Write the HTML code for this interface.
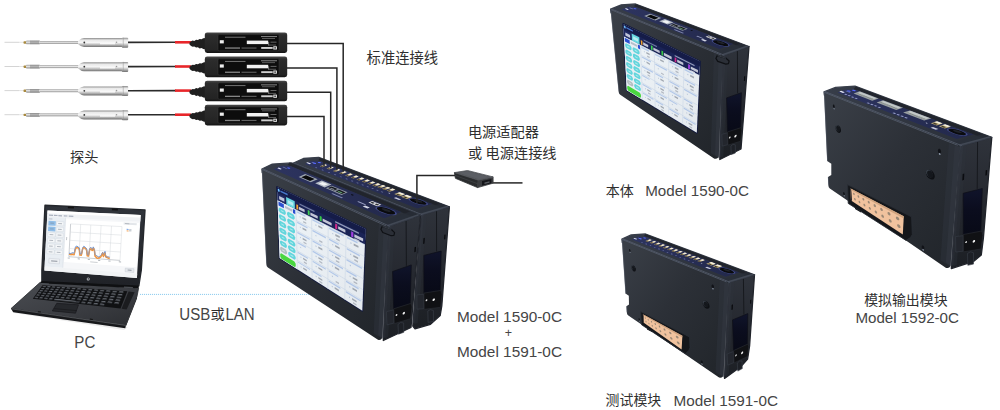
<!DOCTYPE html>
<html lang="zh"><head><meta charset="utf-8"><title>Model 1590-0C system configuration</title>
<style>
html,body{margin:0;padding:0;background:#fff;}
body{width:1000px;height:410px;overflow:hidden;font-family:"Liberation Sans","Noto Sans CJK SC",sans-serif;}
svg{display:block;}
svg text{font-family:"Liberation Sans","Noto Sans CJK SC",sans-serif;}
</style></head><body>
<svg width="1000" height="410" viewBox="0 0 1000 410">
<defs>
<linearGradient id="gMetal" x1="0" y1="0" x2="0" y2="1">
<stop offset="0" stop-color="#8e8e8e"/><stop offset=".22" stop-color="#e9e9e9"/><stop offset=".5" stop-color="#f6f6f6"/><stop offset=".8" stop-color="#a9a9a9"/><stop offset="1" stop-color="#6e6e6e"/></linearGradient>
<linearGradient id="gShaft" x1="0" y1="0" x2="0" y2="1">
<stop offset="0" stop-color="#9a9a9a"/><stop offset=".45" stop-color="#e4e4e4"/><stop offset="1" stop-color="#8c8c8c"/></linearGradient>
<linearGradient id="gAmp" x1="0" y1="0" x2="0" y2="1">
<stop offset="0" stop-color="#4c4c4c"/><stop offset=".12" stop-color="#2d2d2d"/><stop offset=".88" stop-color="#232323"/><stop offset="1" stop-color="#121212"/></linearGradient>
<linearGradient id="gDeck" x1="0" y1="0" x2="1" y2="1">
<stop offset="0" stop-color="#4a4d52"/><stop offset=".6" stop-color="#3a3c41"/><stop offset="1" stop-color="#2c2e32"/></linearGradient>
<linearGradient id="gLid" x1="0" y1="0" x2="0" y2="1">
<stop offset="0" stop-color="#30343b"/><stop offset="1" stop-color="#202227"/></linearGradient>
<linearGradient id="gFront" x1="0" y1="0" x2="1" y2="1">
<stop offset="0" stop-color="#3a3f47"/><stop offset=".45" stop-color="#2c3037"/><stop offset="1" stop-color="#21252a"/></linearGradient>
<linearGradient id="gSide" x1="0" y1="0" x2="0" y2="1">
<stop offset="0" stop-color="#2f333b"/><stop offset=".5" stop-color="#25282f"/><stop offset="1" stop-color="#1c1f24"/></linearGradient>
<linearGradient id="gTop" x1="0" y1="0" x2="1" y2="0">
<stop offset="0" stop-color="#373d49"/><stop offset="1" stop-color="#292e37"/></linearGradient>
<linearGradient id="gPanel" x1="0" y1="0" x2="1" y2="0">
<stop offset="0" stop-color="#2d3460"/><stop offset="1" stop-color="#22284a"/></linearGradient>
<linearGradient id="gWin" x1="0" y1="0" x2="0" y2="1">
<stop offset="0" stop-color="#10142b"/><stop offset=".45" stop-color="#0b0d1e"/><stop offset="1" stop-color="#080a16"/></linearGradient>
<linearGradient id="gScreen" x1="0" y1="0" x2="1" y2="1">
<stop offset="0" stop-color="#eef4f8"/><stop offset="1" stop-color="#e4e9ee"/></linearGradient>
</defs>
<g><line x1="4.5" y1="42.3" x2="19" y2="42.3" stroke="#c9c9c9" stroke-width=".8"/><line x1="19" y1="42.3" x2="24" y2="42.3" stroke="#dcdcdc" stroke-width=".8"/><rect x="23.5" y="41.3" width="3" height="2.4" rx=".8" fill="#a8893e"/><rect x="26" y="41.0" width="54" height="2.9" fill="url(#gShaft)"/><rect x="26.4" y="40.6" width="13.6" height="3.6" fill="url(#gShaft)"/><rect x="30" y="40.6" width="9" height="3.6" fill="#7a7a7a" opacity=".45"/><path d="M78 41.2 q3.2 -3.1 6 -3.1 h38 v9 h-38 q-2.8 0 -6 -3.1 z" fill="url(#gMetal)"/><rect x="121.8" y="37.8" width="6.4" height="10" rx="1" fill="url(#gMetal)"/><rect x="122.8" y="37.6" width=".8" height="10" fill="#8d8d8d" opacity=".6"/><circle cx="84.3" cy="42.5" r=".9" fill="#333"/><circle cx="116.5" cy="42.3" r=".8" fill="#999"/><rect x="100" y="42.8" width="15" height="1.5" fill="#fff" opacity=".8"/><line x1="128" y1="42.4" x2="176" y2="42.3" stroke="#2b2b2b" stroke-width="1.6"/><line x1="175" y1="42.3" x2="191" y2="42.3" stroke="#e8262a" stroke-width="2.6"/><path d="M189.5 42.8 q1.5 -2 3.2 -2.2 l1.6 .3 l1.8 -1.1 l1.8 .3 l1.8 -1.1 l1.8 .3 l1.8 -1 l2.2 -.4 v11.6 l-2.2 -.4 l-1.8 -1 l-1.8 .3 l-1.8 -1.1 l-1.8 .3 l-1.8 -1.1 l-1.6 .3 q-1.7 -.2 -3.2 -2.2 z" fill="#1f1f1f"/><rect x="204.8" y="32.4" width="82.4" height="20.6" rx="2.4" fill="url(#gAmp)"/><rect x="218" y="34.6" width="61" height="16.2" rx="1.2" fill="#0d0d0d" stroke="#3d3d3d" stroke-width=".5"/><rect x="219.8" y="40.2" width="4" height="3.2" fill="#ededed"/><rect x="246.8" y="40.6" width="21.4" height="3.5" fill="#f1f1f1"/><rect x="225" y="36.7" width="20.5" height="1.1" fill="#8a8a8a" opacity=".75"/><rect x="261" y="36.0" width="16" height="1.1" fill="#9a9a9a" opacity=".8"/><rect x="262" y="38.0" width="13" height=".9" fill="#777" opacity=".8"/><rect x="270.5" y="41.7" width="6" height=".9" fill="#888" opacity=".8"/><rect x="268.2" y="42.0" width=".9" height="3.6" fill="#aaa" opacity=".8"/><rect x="269" y="44.6" width="7" height=".9" fill="#777" opacity=".8"/><rect x="225" y="47.4" width="15" height="1.3" fill="#9b9b9b" opacity=".85"/><rect x="241.5" y="47.5" width="15" height="1.1" fill="#777" opacity=".8"/><rect x="261.2" y="47.0" width="11.5" height="1.9" fill="#cfcfcf"/><rect x="273.3" y="46.3" width="3.6" height="3.2" fill="#e6e6e6"/><rect x="274.3" y="47.2" width="1.6" height="1.4" fill="#333"/></g>
<g><line x1="4.5" y1="66.5" x2="19" y2="66.5" stroke="#c9c9c9" stroke-width=".8"/><line x1="19" y1="66.5" x2="24" y2="66.5" stroke="#dcdcdc" stroke-width=".8"/><rect x="23.5" y="65.5" width="3" height="2.4" rx=".8" fill="#a8893e"/><rect x="26" y="65.2" width="54" height="2.9" fill="url(#gShaft)"/><rect x="26.4" y="64.8" width="13.6" height="3.6" fill="url(#gShaft)"/><rect x="30" y="64.8" width="9" height="3.6" fill="#7a7a7a" opacity=".45"/><path d="M78 65.4 q3.2 -3.1 6 -3.1 h38 v9 h-38 q-2.8 0 -6 -3.1 z" fill="url(#gMetal)"/><rect x="121.8" y="62.0" width="6.4" height="10" rx="1" fill="url(#gMetal)"/><rect x="122.8" y="61.8" width=".8" height="10" fill="#8d8d8d" opacity=".6"/><circle cx="84.3" cy="66.7" r=".9" fill="#333"/><circle cx="116.5" cy="66.5" r=".8" fill="#999"/><rect x="100" y="67.0" width="15" height="1.5" fill="#fff" opacity=".8"/><line x1="128" y1="66.6" x2="176" y2="66.5" stroke="#2b2b2b" stroke-width="1.6"/><line x1="175" y1="66.5" x2="191" y2="66.5" stroke="#e8262a" stroke-width="2.6"/><path d="M189.5 67.0 q1.5 -2 3.2 -2.2 l1.6 .3 l1.8 -1.1 l1.8 .3 l1.8 -1.1 l1.8 .3 l1.8 -1 l2.2 -.4 v11.6 l-2.2 -.4 l-1.8 -1 l-1.8 .3 l-1.8 -1.1 l-1.8 .3 l-1.8 -1.1 l-1.6 .3 q-1.7 -.2 -3.2 -2.2 z" fill="#1f1f1f"/><rect x="204.8" y="56.6" width="82.4" height="20.6" rx="2.4" fill="url(#gAmp)"/><rect x="218" y="58.8" width="61" height="16.2" rx="1.2" fill="#0d0d0d" stroke="#3d3d3d" stroke-width=".5"/><rect x="219.8" y="64.4" width="4" height="3.2" fill="#ededed"/><rect x="246.8" y="64.8" width="21.4" height="3.5" fill="#f1f1f1"/><rect x="225" y="60.9" width="20.5" height="1.1" fill="#8a8a8a" opacity=".75"/><rect x="261" y="60.2" width="16" height="1.1" fill="#9a9a9a" opacity=".8"/><rect x="262" y="62.2" width="13" height=".9" fill="#777" opacity=".8"/><rect x="270.5" y="65.9" width="6" height=".9" fill="#888" opacity=".8"/><rect x="268.2" y="66.2" width=".9" height="3.6" fill="#aaa" opacity=".8"/><rect x="269" y="68.8" width="7" height=".9" fill="#777" opacity=".8"/><rect x="225" y="71.6" width="15" height="1.3" fill="#9b9b9b" opacity=".85"/><rect x="241.5" y="71.7" width="15" height="1.1" fill="#777" opacity=".8"/><rect x="261.2" y="71.2" width="11.5" height="1.9" fill="#cfcfcf"/><rect x="273.3" y="70.5" width="3.6" height="3.2" fill="#e6e6e6"/><rect x="274.3" y="71.4" width="1.6" height="1.4" fill="#333"/></g>
<g><line x1="4.5" y1="90.6" x2="19" y2="90.6" stroke="#c9c9c9" stroke-width=".8"/><line x1="19" y1="90.6" x2="24" y2="90.6" stroke="#dcdcdc" stroke-width=".8"/><rect x="23.5" y="89.6" width="3" height="2.4" rx=".8" fill="#a8893e"/><rect x="26" y="89.3" width="54" height="2.9" fill="url(#gShaft)"/><rect x="26.4" y="89.0" width="13.6" height="3.6" fill="url(#gShaft)"/><rect x="30" y="89.0" width="9" height="3.6" fill="#7a7a7a" opacity=".45"/><path d="M78 89.5 q3.2 -3.1 6 -3.1 h38 v9 h-38 q-2.8 0 -6 -3.1 z" fill="url(#gMetal)"/><rect x="121.8" y="86.1" width="6.4" height="10" rx="1" fill="url(#gMetal)"/><rect x="122.8" y="85.9" width=".8" height="10" fill="#8d8d8d" opacity=".6"/><circle cx="84.3" cy="90.8" r=".9" fill="#333"/><circle cx="116.5" cy="90.6" r=".8" fill="#999"/><rect x="100" y="91.1" width="15" height="1.5" fill="#fff" opacity=".8"/><line x1="128" y1="90.7" x2="176" y2="90.6" stroke="#2b2b2b" stroke-width="1.6"/><line x1="175" y1="90.6" x2="191" y2="90.6" stroke="#e8262a" stroke-width="2.6"/><path d="M189.5 91.1 q1.5 -2 3.2 -2.2 l1.6 .3 l1.8 -1.1 l1.8 .3 l1.8 -1.1 l1.8 .3 l1.8 -1 l2.2 -.4 v11.6 l-2.2 -.4 l-1.8 -1 l-1.8 .3 l-1.8 -1.1 l-1.8 .3 l-1.8 -1.1 l-1.6 .3 q-1.7 -.2 -3.2 -2.2 z" fill="#1f1f1f"/><rect x="204.8" y="80.7" width="82.4" height="20.6" rx="2.4" fill="url(#gAmp)"/><rect x="218" y="82.9" width="61" height="16.2" rx="1.2" fill="#0d0d0d" stroke="#3d3d3d" stroke-width=".5"/><rect x="219.8" y="88.5" width="4" height="3.2" fill="#ededed"/><rect x="246.8" y="88.9" width="21.4" height="3.5" fill="#f1f1f1"/><rect x="225" y="85.0" width="20.5" height="1.1" fill="#8a8a8a" opacity=".75"/><rect x="261" y="84.3" width="16" height="1.1" fill="#9a9a9a" opacity=".8"/><rect x="262" y="86.3" width="13" height=".9" fill="#777" opacity=".8"/><rect x="270.5" y="90.0" width="6" height=".9" fill="#888" opacity=".8"/><rect x="268.2" y="90.3" width=".9" height="3.6" fill="#aaa" opacity=".8"/><rect x="269" y="92.9" width="7" height=".9" fill="#777" opacity=".8"/><rect x="225" y="95.7" width="15" height="1.3" fill="#9b9b9b" opacity=".85"/><rect x="241.5" y="95.8" width="15" height="1.1" fill="#777" opacity=".8"/><rect x="261.2" y="95.3" width="11.5" height="1.9" fill="#cfcfcf"/><rect x="273.3" y="94.6" width="3.6" height="3.2" fill="#e6e6e6"/><rect x="274.3" y="95.5" width="1.6" height="1.4" fill="#333"/></g>
<g><line x1="4.5" y1="114.7" x2="19" y2="114.7" stroke="#c9c9c9" stroke-width=".8"/><line x1="19" y1="114.7" x2="24" y2="114.7" stroke="#dcdcdc" stroke-width=".8"/><rect x="23.5" y="113.7" width="3" height="2.4" rx=".8" fill="#a8893e"/><rect x="26" y="113.4" width="54" height="2.9" fill="url(#gShaft)"/><rect x="26.4" y="113.0" width="13.6" height="3.6" fill="url(#gShaft)"/><rect x="30" y="113.0" width="9" height="3.6" fill="#7a7a7a" opacity=".45"/><path d="M78 113.6 q3.2 -3.1 6 -3.1 h38 v9 h-38 q-2.8 0 -6 -3.1 z" fill="url(#gMetal)"/><rect x="121.8" y="110.2" width="6.4" height="10" rx="1" fill="url(#gMetal)"/><rect x="122.8" y="110.0" width=".8" height="10" fill="#8d8d8d" opacity=".6"/><circle cx="84.3" cy="114.9" r=".9" fill="#333"/><circle cx="116.5" cy="114.7" r=".8" fill="#999"/><rect x="100" y="115.2" width="15" height="1.5" fill="#fff" opacity=".8"/><line x1="128" y1="114.8" x2="176" y2="114.7" stroke="#2b2b2b" stroke-width="1.6"/><line x1="175" y1="114.7" x2="191" y2="114.7" stroke="#e8262a" stroke-width="2.6"/><path d="M189.5 115.2 q1.5 -2 3.2 -2.2 l1.6 .3 l1.8 -1.1 l1.8 .3 l1.8 -1.1 l1.8 .3 l1.8 -1 l2.2 -.4 v11.6 l-2.2 -.4 l-1.8 -1 l-1.8 .3 l-1.8 -1.1 l-1.8 .3 l-1.8 -1.1 l-1.6 .3 q-1.7 -.2 -3.2 -2.2 z" fill="#1f1f1f"/><rect x="204.8" y="104.8" width="82.4" height="20.6" rx="2.4" fill="url(#gAmp)"/><rect x="218" y="107.0" width="61" height="16.2" rx="1.2" fill="#0d0d0d" stroke="#3d3d3d" stroke-width=".5"/><rect x="219.8" y="112.6" width="4" height="3.2" fill="#ededed"/><rect x="246.8" y="113.0" width="21.4" height="3.5" fill="#f1f1f1"/><rect x="225" y="109.1" width="20.5" height="1.1" fill="#8a8a8a" opacity=".75"/><rect x="261" y="108.4" width="16" height="1.1" fill="#9a9a9a" opacity=".8"/><rect x="262" y="110.4" width="13" height=".9" fill="#777" opacity=".8"/><rect x="270.5" y="114.1" width="6" height=".9" fill="#888" opacity=".8"/><rect x="268.2" y="114.4" width=".9" height="3.6" fill="#aaa" opacity=".8"/><rect x="269" y="117.0" width="7" height=".9" fill="#777" opacity=".8"/><rect x="225" y="119.8" width="15" height="1.3" fill="#9b9b9b" opacity=".85"/><rect x="241.5" y="119.9" width="15" height="1.1" fill="#777" opacity=".8"/><rect x="261.2" y="119.4" width="11.5" height="1.9" fill="#cfcfcf"/><rect x="273.3" y="118.7" width="3.6" height="3.2" fill="#e6e6e6"/><rect x="274.3" y="119.6" width="1.6" height="1.4" fill="#333"/></g>
<g><polygon points="14,313 124,330 128,327 20,309" fill="#d9d9d9" opacity=".5"/><polygon points="40.2,282.3 138.6,288.2 137.2,295.5 125.8,325.2 11.0,308.6" fill="url(#gDeck)" stroke="#2a2c30" stroke-width=".8" stroke-linejoin="round"/><polygon points="11.0,308.6 125.8,325.2 125.2,328.3 13.2,312.3" fill="#17181b"/><polygon points="125.8,325.2 137.2,295.5 137.0,298.5 125.2,328.3" fill="#222427"/><line x1="11.4" y1="308.9" x2="125.6" y2="325.4" stroke="#5b5e63" stroke-width=".7"/><polygon points="42.5,285.3 127.3,291.3 120.5,308.6 32.8,298.8" fill="#101113"/><polygon points="43.0,285.7 46.3,286.0 45.3,287.4 42.1,287.1" fill="#33363b" /><polygon points="43.2,285.9 45.7,286.0 45.4,286.5 42.9,286.3" fill="#a4a9b0" opacity=".6"/><polygon points="47.6,286.1 50.9,286.3 50.0,287.7 46.6,287.5" fill="#33363b" /><polygon points="47.8,286.2 50.3,286.4 50.0,286.9 47.5,286.7" fill="#a4a9b0" opacity=".6"/><polygon points="52.2,286.4 55.7,286.7 54.7,288.1 51.3,287.8" fill="#33363b" /><polygon points="52.5,286.5 55.1,286.7 54.7,287.2 52.1,287.0" fill="#a4a9b0" opacity=".6"/><polygon points="57.0,286.7 60.5,287.0 59.6,288.4 56.1,288.2" fill="#33363b" /><polygon points="57.2,286.9 59.9,287.1 59.6,287.6 56.9,287.4" fill="#a4a9b0" opacity=".6"/><polygon points="61.9,287.1 65.5,287.4 64.6,288.8 61.0,288.5" fill="#33363b" /><polygon points="62.1,287.2 64.9,287.4 64.6,287.9 61.8,287.7" fill="#a4a9b0" opacity=".6"/><polygon points="66.9,287.5 70.7,287.7 69.8,289.2 66.0,288.9" fill="#33363b" /><polygon points="67.2,287.6 70.0,287.8 69.7,288.3 66.9,288.1" fill="#a4a9b0" opacity=".6"/><polygon points="72.1,287.8 75.9,288.1 75.0,289.6 71.2,289.3" fill="#33363b" /><polygon points="72.4,288.0 75.3,288.2 75.0,288.7 72.1,288.5" fill="#a4a9b0" opacity=".6"/><polygon points="77.4,288.2 81.3,288.5 80.5,290.0 76.5,289.7" fill="#33363b" /><polygon points="77.7,288.4 80.7,288.6 80.4,289.1 77.4,288.9" fill="#a4a9b0" opacity=".6"/><polygon points="82.9,288.6 86.9,288.9 86.1,290.4 82.0,290.1" fill="#33363b" /><polygon points="83.2,288.8 86.2,289.0 85.9,289.5 82.9,289.3" fill="#a4a9b0" opacity=".6"/><polygon points="88.5,289.0 92.6,289.3 91.8,290.9 87.7,290.6" fill="#33363b" /><polygon points="88.8,289.2 92.0,289.4 91.7,289.9 88.5,289.7" fill="#a4a9b0" opacity=".6"/><polygon points="94.3,289.4 98.5,289.7 97.7,291.3 93.5,291.0" fill="#33363b" /><polygon points="94.6,289.6 97.8,289.8 97.6,290.4 94.3,290.1" fill="#a4a9b0" opacity=".6"/><polygon points="100.2,289.9 104.6,290.2 103.8,291.8 99.4,291.5" fill="#33363b" /><polygon points="100.5,290.0 103.9,290.2 103.6,290.8 100.3,290.6" fill="#a4a9b0" opacity=".6"/><polygon points="106.3,290.3 110.9,290.6 110.1,292.3 105.6,291.9" fill="#33363b" /><polygon points="106.7,290.4 110.1,290.7 109.9,291.3 106.4,291.0" fill="#a4a9b0" opacity=".6"/><polygon points="112.7,290.7 117.3,291.1 116.6,292.8 111.9,292.4" fill="#33363b" /><polygon points="113.0,290.9 116.6,291.2 116.3,291.8 112.7,291.5" fill="#a4a9b0" opacity=".6"/><polygon points="119.2,291.2 124.0,291.6 123.3,293.3 118.4,292.9" fill="#33363b" /><polygon points="119.5,291.4 123.2,291.6 122.9,292.2 119.3,292.0" fill="#a4a9b0" opacity=".6"/><polygon points="41.5,287.9 44.8,288.1 43.8,289.5 40.5,289.2" fill="#33363b" /><polygon points="41.7,288.0 44.2,288.2 43.9,288.7 41.4,288.5" fill="#a4a9b0" opacity=".6"/><polygon points="46.1,288.2 49.4,288.5 48.5,289.9 45.1,289.6" fill="#33363b" /><polygon points="46.3,288.3 48.9,288.5 48.5,289.0 46.0,288.8" fill="#a4a9b0" opacity=".6"/><polygon points="50.8,288.6 54.2,288.8 53.2,290.3 49.8,290.0" fill="#33363b" /><polygon points="51.0,288.7 53.6,288.9 53.3,289.4 50.6,289.2" fill="#a4a9b0" opacity=".6"/><polygon points="55.6,289.0 59.1,289.2 58.1,290.7 54.6,290.4" fill="#33363b" /><polygon points="55.8,289.1 58.5,289.3 58.1,289.8 55.4,289.6" fill="#a4a9b0" opacity=".6"/><polygon points="60.5,289.3 64.1,289.6 63.2,291.1 59.5,290.8" fill="#33363b" /><polygon points="60.7,289.5 63.5,289.7 63.2,290.2 60.4,290.0" fill="#a4a9b0" opacity=".6"/><polygon points="65.5,289.7 69.3,290.0 68.3,291.5 64.6,291.2" fill="#33363b" /><polygon points="65.8,289.9 68.6,290.1 68.3,290.6 65.5,290.4" fill="#a4a9b0" opacity=".6"/><polygon points="70.7,290.1 74.6,290.4 73.7,292.0 69.8,291.6" fill="#33363b" /><polygon points="71.0,290.3 73.9,290.5 73.6,291.0 70.7,290.8" fill="#a4a9b0" opacity=".6"/><polygon points="76.1,290.6 80.0,290.9 79.1,292.4 75.2,292.1" fill="#33363b" /><polygon points="76.3,290.7 79.3,290.9 79.0,291.5 76.0,291.2" fill="#a4a9b0" opacity=".6"/><polygon points="81.6,291.0 85.6,291.3 84.7,292.9 80.7,292.5" fill="#33363b" /><polygon points="81.8,291.1 84.9,291.4 84.6,291.9 81.5,291.7" fill="#a4a9b0" opacity=".6"/><polygon points="87.2,291.4 91.4,291.7 90.5,293.4 86.3,293.0" fill="#33363b" /><polygon points="87.5,291.6 90.7,291.8 90.4,292.4 87.2,292.1" fill="#a4a9b0" opacity=".6"/><polygon points="93.0,291.9 97.3,292.2 96.5,293.8 92.2,293.5" fill="#33363b" /><polygon points="93.3,292.0 96.6,292.3 96.3,292.9 93.0,292.6" fill="#a4a9b0" opacity=".6"/><polygon points="99.0,292.3 103.4,292.7 102.6,294.3 98.2,294.0" fill="#33363b" /><polygon points="99.3,292.5 102.7,292.8 102.4,293.3 99.0,293.1" fill="#a4a9b0" opacity=".6"/><polygon points="105.2,292.8 109.7,293.2 108.9,294.9 104.4,294.5" fill="#33363b" /><polygon points="105.5,293.0 109.0,293.3 108.7,293.8 105.2,293.6" fill="#a4a9b0" opacity=".6"/><polygon points="111.5,293.3 116.2,293.7 115.5,295.4 110.7,295.0" fill="#33363b" /><polygon points="111.8,293.5 115.4,293.8 115.2,294.4 111.6,294.1" fill="#a4a9b0" opacity=".6"/><polygon points="118.0,293.8 122.9,294.2 122.2,296.0 117.3,295.6" fill="#33363b" /><polygon points="118.4,294.0 122.1,294.3 121.8,294.9 118.1,294.6" fill="#a4a9b0" opacity=".6"/><polygon points="40.0,290.0 43.3,290.3 42.3,291.7 39.0,291.4" fill="#33363b" /><polygon points="40.2,290.1 42.7,290.3 42.4,290.8 39.9,290.6" fill="#a4a9b0" opacity=".6"/><polygon points="44.6,290.4 47.9,290.7 47.0,292.1 43.6,291.8" fill="#33363b" /><polygon points="44.8,290.5 47.4,290.7 47.0,291.2 44.4,291.0" fill="#a4a9b0" opacity=".6"/><polygon points="49.3,290.8 52.7,291.1 51.7,292.5 48.3,292.2" fill="#33363b" /><polygon points="49.5,290.9 52.1,291.1 51.8,291.7 49.1,291.4" fill="#a4a9b0" opacity=".6"/><polygon points="54.1,291.2 57.6,291.5 56.7,293.0 53.1,292.7" fill="#33363b" /><polygon points="54.3,291.3 57.0,291.6 56.7,292.1 54.0,291.8" fill="#a4a9b0" opacity=".6"/><polygon points="59.0,291.6 62.7,291.9 61.7,293.4 58.1,293.1" fill="#33363b" /><polygon points="59.3,291.7 62.0,292.0 61.7,292.5 58.9,292.3" fill="#a4a9b0" opacity=".6"/><polygon points="64.1,292.0 67.8,292.4 66.9,293.9 63.2,293.6" fill="#33363b" /><polygon points="64.3,292.2 67.2,292.4 66.9,293.0 64.0,292.7" fill="#a4a9b0" opacity=".6"/><polygon points="69.3,292.5 73.2,292.8 72.3,294.4 68.4,294.0" fill="#33363b" /><polygon points="69.6,292.6 72.5,292.9 72.2,293.4 69.2,293.2" fill="#a4a9b0" opacity=".6"/><polygon points="74.7,292.9 78.6,293.3 77.7,294.8 73.8,294.5" fill="#33363b" /><polygon points="75.0,293.1 78.0,293.3 77.7,293.9 74.6,293.6" fill="#a4a9b0" opacity=".6"/><polygon points="80.2,293.4 84.3,293.7 83.4,295.3 79.3,295.0" fill="#33363b" /><polygon points="80.5,293.5 83.6,293.8 83.3,294.4 80.2,294.1" fill="#a4a9b0" opacity=".6"/><polygon points="85.9,293.9 90.1,294.2 89.2,295.9 85.0,295.5" fill="#33363b" /><polygon points="86.2,294.0 89.4,294.3 89.1,294.9 85.9,294.6" fill="#a4a9b0" opacity=".6"/><polygon points="91.7,294.4 96.0,294.7 95.2,296.4 90.9,296.0" fill="#33363b" /><polygon points="92.0,294.5 95.3,294.8 95.0,295.4 91.7,295.1" fill="#a4a9b0" opacity=".6"/><polygon points="97.7,294.9 102.2,295.3 101.4,296.9 96.9,296.5" fill="#33363b" /><polygon points="98.1,295.0 101.5,295.3 101.2,295.9 97.8,295.6" fill="#a4a9b0" opacity=".6"/><polygon points="103.9,295.4 108.5,295.8 107.7,297.5 103.1,297.1" fill="#33363b" /><polygon points="104.3,295.6 107.8,295.9 107.5,296.5 104.0,296.2" fill="#a4a9b0" opacity=".6"/><polygon points="110.3,295.9 115.1,296.3 114.3,298.1 109.6,297.7" fill="#33363b" /><polygon points="110.7,296.1 114.3,296.4 114.0,297.0 110.4,296.7" fill="#a4a9b0" opacity=".6"/><polygon points="116.9,296.5 121.8,296.9 121.1,298.7 116.2,298.3" fill="#33363b" /><polygon points="117.3,296.7 121.0,297.0 120.7,297.6 117.0,297.3" fill="#a4a9b0" opacity=".6"/><polygon points="38.4,292.2 41.7,292.5 40.7,293.9 37.4,293.6" fill="#33363b" /><polygon points="38.6,292.3 41.2,292.5 40.8,293.0 38.3,292.8" fill="#a4a9b0" opacity=".6"/><polygon points="43.0,292.6 46.4,292.9 45.4,294.4 42.0,294.0" fill="#33363b" /><polygon points="43.2,292.7 45.8,293.0 45.5,293.5 42.9,293.2" fill="#a4a9b0" opacity=".6"/><polygon points="47.7,293.0 51.2,293.3 50.2,294.8 46.7,294.5" fill="#33363b" /><polygon points="48.0,293.2 50.6,293.4 50.3,293.9 47.6,293.7" fill="#a4a9b0" opacity=".6"/><polygon points="52.6,293.5 56.1,293.8 55.2,295.3 51.6,295.0" fill="#33363b" /><polygon points="52.8,293.6 55.5,293.9 55.2,294.4 52.5,294.1" fill="#a4a9b0" opacity=".6"/><polygon points="57.5,293.9 61.2,294.2 60.2,295.8 56.6,295.4" fill="#33363b" /><polygon points="57.8,294.1 60.6,294.3 60.2,294.9 57.4,294.6" fill="#a4a9b0" opacity=".6"/><polygon points="62.6,294.4 66.4,294.7 65.5,296.3 61.7,295.9" fill="#33363b" /><polygon points="62.9,294.5 65.8,294.8 65.4,295.3 62.6,295.1" fill="#a4a9b0" opacity=".6"/><polygon points="67.9,294.9 71.8,295.2 70.8,296.8 66.9,296.4" fill="#33363b" /><polygon points="68.1,295.0 71.1,295.3 70.8,295.8 67.8,295.6" fill="#a4a9b0" opacity=".6"/><polygon points="73.3,295.3 77.3,295.7 76.3,297.3 72.4,296.9" fill="#33363b" /><polygon points="73.5,295.5 76.6,295.8 76.3,296.3 73.2,296.1" fill="#a4a9b0" opacity=".6"/><polygon points="78.8,295.9 82.9,296.2 82.0,297.9 77.9,297.5" fill="#33363b" /><polygon points="79.1,296.0 82.2,296.3 81.9,296.9 78.8,296.6" fill="#a4a9b0" opacity=".6"/><polygon points="84.5,296.4 88.7,296.8 87.9,298.4 83.6,298.0" fill="#33363b" /><polygon points="84.8,296.5 88.0,296.8 87.7,297.4 84.5,297.1" fill="#a4a9b0" opacity=".6"/><polygon points="90.4,296.9 94.8,297.3 93.9,299.0 89.5,298.6" fill="#33363b" /><polygon points="90.7,297.1 94.0,297.4 93.7,298.0 90.4,297.7" fill="#a4a9b0" opacity=".6"/><polygon points="96.5,297.5 100.9,297.9 100.1,299.6 95.6,299.2" fill="#33363b" /><polygon points="96.8,297.6 100.2,297.9 99.9,298.5 96.5,298.2" fill="#a4a9b0" opacity=".6"/><polygon points="102.7,298.0 107.3,298.5 106.5,300.2 101.9,299.8" fill="#33363b" /><polygon points="103.0,298.2 106.6,298.5 106.3,299.1 102.7,298.8" fill="#a4a9b0" opacity=".6"/><polygon points="109.1,298.6 113.9,299.0 113.1,300.8 108.3,300.4" fill="#33363b" /><polygon points="109.5,298.8 113.1,299.1 112.8,299.7 109.2,299.4" fill="#a4a9b0" opacity=".6"/><polygon points="115.8,299.2 120.7,299.7 119.9,301.5 115.0,301.0" fill="#33363b" /><polygon points="116.1,299.4 119.9,299.7 119.6,300.4 115.9,300.0" fill="#a4a9b0" opacity=".6"/><polygon points="36.9,294.4 40.2,294.7 39.1,296.2 35.8,295.8" fill="#33363b" /><polygon points="37.1,294.5 39.6,294.8 39.2,295.3 36.7,295.0" fill="#a4a9b0" opacity=".6"/><polygon points="41.5,294.8 44.9,295.2 43.8,296.7 40.4,296.3" fill="#33363b" /><polygon points="41.7,295.0 44.3,295.2 43.9,295.8 41.3,295.5" fill="#a4a9b0" opacity=".6"/><polygon points="46.2,295.3 49.7,295.6 48.7,297.2 45.2,296.8" fill="#33363b" /><polygon points="46.4,295.4 49.1,295.7 48.7,296.2 46.1,296.0" fill="#a4a9b0" opacity=".6"/><polygon points="51.0,295.8 54.6,296.1 53.6,297.7 50.0,297.3" fill="#33363b" /><polygon points="51.3,295.9 54.0,296.2 53.7,296.7 50.9,296.5" fill="#a4a9b0" opacity=".6"/><polygon points="56.0,296.3 59.7,296.6 58.7,298.2 55.0,297.8" fill="#33363b" /><polygon points="56.3,296.4 59.1,296.7 58.7,297.2 55.9,297.0" fill="#a4a9b0" opacity=".6"/><polygon points="61.2,296.8 64.9,297.1 64.0,298.7 60.2,298.3" fill="#33363b" /><polygon points="61.4,296.9 64.3,297.2 64.0,297.8 61.1,297.5" fill="#a4a9b0" opacity=".6"/><polygon points="66.4,297.3 70.3,297.7 69.4,299.3 65.5,298.9" fill="#33363b" /><polygon points="66.7,297.4 69.7,297.7 69.3,298.3 66.3,298.0" fill="#a4a9b0" opacity=".6"/><polygon points="71.8,297.8 75.8,298.2 74.9,299.8 70.9,299.4" fill="#33363b" /><polygon points="72.1,298.0 75.2,298.3 74.8,298.8 71.8,298.5" fill="#a4a9b0" opacity=".6"/><polygon points="77.4,298.4 81.5,298.8 80.6,300.4 76.5,300.0" fill="#33363b" /><polygon points="77.7,298.5 80.8,298.8 80.5,299.4 77.4,299.1" fill="#a4a9b0" opacity=".6"/><polygon points="83.2,298.9 87.4,299.3 86.5,301.0 82.3,300.6" fill="#33363b" /><polygon points="83.5,299.1 86.7,299.4 86.4,300.0 83.1,299.7" fill="#a4a9b0" opacity=".6"/><polygon points="89.1,299.5 93.4,299.9 92.6,301.6 88.2,301.2" fill="#33363b" /><polygon points="89.4,299.7 92.7,300.0 92.4,300.6 89.1,300.3" fill="#a4a9b0" opacity=".6"/><polygon points="95.2,300.1 99.7,300.5 98.8,302.3 94.3,301.8" fill="#33363b" /><polygon points="95.5,300.3 98.9,300.6 98.6,301.2 95.2,300.9" fill="#a4a9b0" opacity=".6"/><polygon points="101.4,300.7 106.1,301.2 105.3,302.9 100.6,302.5" fill="#33363b" /><polygon points="101.8,300.9 105.3,301.2 105.0,301.9 101.5,301.5" fill="#a4a9b0" opacity=".6"/><polygon points="107.9,301.3 112.7,301.8 111.9,303.6 107.1,303.1" fill="#33363b" /><polygon points="108.3,301.5 111.9,301.9 111.6,302.5 108.0,302.1" fill="#a4a9b0" opacity=".6"/><polygon points="114.6,302.0 119.5,302.5 118.8,304.3 113.8,303.8" fill="#33363b" /><polygon points="115.0,302.2 118.7,302.5 118.5,303.2 114.7,302.8" fill="#a4a9b0" opacity=".6"/><polygon points="35.3,296.6 38.6,297.0 37.5,298.5 34.2,298.1" fill="#33363b" /><polygon points="35.5,296.8 38.0,297.0 37.6,297.6 35.1,297.3" fill="#a4a9b0" opacity=".6"/><polygon points="39.9,297.1 43.3,297.5 42.2,299.0 38.8,298.6" fill="#33363b" /><polygon points="40.1,297.3 42.7,297.5 42.3,298.1 39.7,297.8" fill="#a4a9b0" opacity=".6"/><polygon points="44.6,297.6 48.1,298.0 47.1,299.5 43.6,299.1" fill="#33363b" /><polygon points="44.8,297.8 47.5,298.0 47.1,298.6 44.5,298.3" fill="#a4a9b0" opacity=".6"/><polygon points="49.5,298.1 53.1,298.5 52.1,300.1 48.5,299.7" fill="#33363b" /><polygon points="49.7,298.3 52.5,298.6 52.1,299.1 49.4,298.8" fill="#a4a9b0" opacity=".6"/><polygon points="54.5,298.7 80.0,301.3 79.1,303.0 53.5,300.2" fill="#33363b" /><polygon points="54.7,298.8 75.9,301.0 75.6,301.6 54.4,299.4" fill="#a4a9b0" opacity=".6"/><polygon points="81.8,301.5 86.0,302.0 85.1,303.7 80.8,303.2" fill="#33363b" /><polygon points="82.1,301.7 85.3,302.0 85.0,302.6 81.7,302.3" fill="#a4a9b0" opacity=".6"/><polygon points="87.7,302.1 92.1,302.6 91.2,304.3 86.8,303.9" fill="#33363b" /><polygon points="88.0,302.3 91.4,302.7 91.1,303.3 87.7,302.9" fill="#a4a9b0" opacity=".6"/><polygon points="93.8,302.8 98.4,303.2 97.5,305.0 93.0,304.5" fill="#33363b" /><polygon points="94.2,302.9 97.6,303.3 97.3,303.9 93.8,303.6" fill="#a4a9b0" opacity=".6"/><polygon points="100.2,303.4 104.8,303.9 104.0,305.7 99.3,305.2" fill="#33363b" /><polygon points="100.5,303.6 104.1,304.0 103.8,304.6 100.2,304.2" fill="#a4a9b0" opacity=".6"/><polygon points="128.6,291.6 134.6,292.2 126.6,309.6 121.6,308.8" fill="#1b1c1f"/><polygon points="56.8,303.3 78.5,304.8 75.5,313.2 52.3,310.9" fill="#26282c" stroke="#18191c" stroke-width=".7" stroke-linejoin="round"/><line x1="54.2" y1="308.6" x2="76.6" y2="310.6" stroke="#15161a" stroke-width=".6"/><rect x="38" y="311.2" width="3" height="1" fill="#111" transform="rotate(8 38 311)"/><rect x="90" y="318.6" width="3" height="1" fill="#111" transform="rotate(8 90 318)"/><polygon points="45.0,205.3 145.0,209.9 141.3,270.0 138.8,285.8 41.9,281.3 41.9,270.0" fill="url(#gLid)" stroke="#24272c" stroke-width="1.4" stroke-linejoin="round"/><polygon points="41.6,281.0 138.9,285.6 138.6,288.2 40.4,283.2" fill="#0f1012"/><polygon points="41.2,283.0 49.0,283.4 48.8,284.4 41.0,284.0" fill="#55595f" opacity=".8"/><polygon points="124.0,286.6 133.0,287.1 132.8,288.2 123.8,287.7" fill="#55595f" opacity=".8"/><rect x="68" y="206.6" width="6" height="1.6" fill="#111" transform="rotate(2.6 68 206)"/><rect x="112" y="208.6" width="6" height="1.6" fill="#111" transform="rotate(2.6 112 208)"/><polygon points="47.5,210.5 140.7,214.9 136.9,278.1 44.4,270.6" fill="#f6f7f9"/><polygon points="47.5,210.5 140.7,214.9 140.5,217.8 47.4,213.2" fill="#ffffff" /><polygon points="47.4,213.2 140.5,217.8 140.3,221.6 47.2,216.8" fill="#f0f2f5" /><polygon points="49.1,214.5 53.1,214.7 53.0,215.9 49.0,215.7" fill="#8b96a8" opacity=".7"/><polygon points="54.0,214.8 57.5,214.9 57.5,216.1 53.9,216.0" fill="#8b96a8" opacity=".7"/><polygon points="58.4,215.0 62.0,215.2 62.0,216.4 58.4,216.2" fill="#8b96a8" opacity=".7"/><polygon points="63.8,215.2 67.4,215.4 67.4,216.6 63.8,216.5" fill="#8b96a8" opacity=".7"/><polygon points="68.8,215.5 73.3,215.7 73.3,216.9 68.7,216.7" fill="#8b96a8" opacity=".7"/><polygon points="47.2,216.8 65.5,217.8 62.8,267.8 44.6,266.4" fill="#e9eef3" /><line x1="65.5" y1="217.8" x2="62.8" y2="267.8" stroke="#d3d9e0" stroke-width="0.5" /><polygon points="48.9,218.4 52.4,218.6 52.4,219.5 48.8,219.3" fill="#9aa3b0" opacity=".7"/><polygon points="48.6,220.8 55.9,221.2 55.6,225.8 48.3,225.4" fill="#8fbde8" /><polygon points="50.3,222.6 54.0,222.8 53.9,223.8 50.2,223.6" fill="#7e8794" opacity=".55"/><polygon points="56.6,221.3 63.9,221.7 63.7,225.9 56.4,225.5" fill="#f4f6f8" stroke="#c9d0d8" stroke-width=".35"/><polygon points="58.3,223.1 62.0,223.3 62.0,224.2 58.2,224.0" fill="#7e8794" opacity=".55"/><polygon points="48.3,226.6 55.6,227.0 55.3,231.5 48.0,231.1" fill="#8fbde8" /><polygon points="50.0,228.4 53.7,228.6 53.6,229.6 49.9,229.3" fill="#7e8794" opacity=".55"/><polygon points="56.3,227.0 63.6,227.4 63.4,231.7 56.1,231.3" fill="#f4f6f8" stroke="#c9d0d8" stroke-width=".35"/><polygon points="58.0,228.8 61.7,229.0 61.7,230.0 57.9,229.8" fill="#7e8794" opacity=".55"/><polygon points="48.0,232.3 55.3,232.7 55.0,237.0 47.8,236.5" fill="#f4f6f8" stroke="#c9d0d8" stroke-width=".35"/><polygon points="49.7,234.1 53.4,234.3 53.3,235.3 49.6,235.1" fill="#7e8794" opacity=".55"/><polygon points="56.0,232.8 63.3,233.2 63.1,237.5 55.7,237.0" fill="#f4f6f8" stroke="#c9d0d8" stroke-width=".35"/><polygon points="57.7,234.6 61.4,234.8 61.4,235.8 57.6,235.6" fill="#7e8794" opacity=".55"/><polygon points="47.7,238.0 55.0,238.5 54.7,242.7 47.5,242.2" fill="#f4f6f8" stroke="#c9d0d8" stroke-width=".35"/><polygon points="49.4,239.8 53.1,240.1 53.0,241.0 49.3,240.8" fill="#7e8794" opacity=".55"/><polygon points="55.7,238.5 63.0,239.0 62.8,243.2 55.4,242.8" fill="#f4f6f8" stroke="#c9d0d8" stroke-width=".35"/><polygon points="57.4,240.3 61.1,240.6 61.1,241.5 57.3,241.3" fill="#7e8794" opacity=".55"/><polygon points="47.4,243.7 54.7,244.2 54.4,248.4 47.2,247.9" fill="#f4f6f8" stroke="#c9d0d8" stroke-width=".35"/><polygon points="49.1,245.5 52.8,245.8 52.7,246.8 49.0,246.5" fill="#7e8794" opacity=".55"/><polygon points="55.4,244.3 62.7,244.8 62.5,249.0 55.1,248.5" fill="#f4f6f8" stroke="#c9d0d8" stroke-width=".35"/><polygon points="57.1,246.1 60.8,246.3 60.8,247.3 57.0,247.0" fill="#7e8794" opacity=".55"/><polygon points="47.1,249.4 54.4,250.0 54.1,254.2 46.9,253.7" fill="#f4f6f8" stroke="#c9d0d8" stroke-width=".35"/><polygon points="48.8,251.3 52.5,251.5 52.4,252.5 48.7,252.2" fill="#7e8794" opacity=".55"/><polygon points="55.1,250.0 62.4,250.5 62.2,254.7 54.8,254.2" fill="#f4f6f8" stroke="#c9d0d8" stroke-width=".35"/><polygon points="56.8,251.8 60.5,252.1 60.5,253.0 56.7,252.8" fill="#7e8794" opacity=".55"/><polygon points="49.0,258.3 59.7,259.1 59.4,263.9 48.8,263.1" fill="#eef1f4" stroke="#bfc6ce" stroke-width=".4"/><polygon points="51.1,260.3 57.4,260.8 57.3,262.0 51.1,261.5" fill="#6f7784" opacity=".6"/><polygon points="66.3,219.3 139.2,223.1 136.6,267.3 64.1,261.9" fill="#ffffff" /><polygon points="123.7,222.6 136.8,223.3 136.6,225.2 123.6,224.5" fill="#e3e6ea" /><polygon points="125.1,223.3 129.4,223.6 129.4,224.3 125.0,224.1" fill="#7d8590" opacity=".6"/><polygon points="126.7,228.8 128.6,228.9 128.6,229.8 126.6,229.7" fill="#5b8fe0" /><polygon points="126.6,230.4 128.5,230.5 128.5,231.4 126.6,231.3" fill="#f0923a" /><polygon points="129.1,228.9 131.5,229.0 131.4,231.6 129.0,231.4" fill="#9aa3ae" opacity=".5"/><line x1="70.6" y1="223.9" x2="68.9" y2="256.7" stroke="#8d949d" stroke-width="0.45" /><line x1="80.7" y1="224.4" x2="78.9" y2="257.5" stroke="#cfd4da" stroke-width="0.45" /><line x1="90.8" y1="224.9" x2="89.0" y2="258.2" stroke="#cfd4da" stroke-width="0.45" /><line x1="101.1" y1="225.5" x2="99.2" y2="258.9" stroke="#cfd4da" stroke-width="0.45" /><line x1="111.5" y1="226.1" x2="109.6" y2="259.7" stroke="#cfd4da" stroke-width="0.45" /><line x1="122.0" y1="226.6" x2="120.0" y2="260.4" stroke="#cfd4da" stroke-width="0.45" /><line x1="70.6" y1="223.9" x2="122.0" y2="226.6" stroke="#cfd4da" stroke-width="0.45" /><line x1="70.2" y1="232.1" x2="121.5" y2="235.1" stroke="#cfd4da" stroke-width="0.45" /><line x1="69.7" y1="240.3" x2="121.0" y2="243.6" stroke="#cfd4da" stroke-width="0.45" /><line x1="69.3" y1="248.5" x2="120.5" y2="252.0" stroke="#cfd4da" stroke-width="0.45" /><line x1="68.9" y1="256.7" x2="120.0" y2="260.4" stroke="#8d949d" stroke-width="0.45" /><polyline points="69.0,254.2 70.8,254.7 72.6,254.3 74.1,254.8 75.3,249.4 76.3,247.7 78.5,247.7 79.3,249.7 79.9,255.1 81.4,255.2 82.7,248.6 83.7,247.5 85.8,248.7 86.6,250.6 87.3,255.8 88.5,256.0 89.7,249.9 90.7,248.9 92.2,250.6 93.2,248.6 94.4,250.8 95.0,256.2 97.1,258.2 98.9,258.1 100.9,256.8 102.7,253.2 103.4,256.6 104.9,253.1 105.9,257.2 109.6,258.7" fill="none" stroke="#f0923a" stroke-width="1.4" stroke-linejoin="round"/><polyline points="69.0,253.2 70.8,253.5 72.7,252.7 74.2,253.3 75.4,247.3 76.4,246.0 78.5,247.2 79.4,248.1 80.0,254.1 81.5,254.0 82.8,247.7 83.8,246.3 85.8,247.8 86.7,249.0 87.3,254.5 88.5,255.1 89.8,248.3 90.8,247.3 92.3,249.4 93.3,246.9 94.4,249.3 95.1,254.9 97.2,256.1 99.0,257.3 101.0,255.3 102.7,252.2 103.5,254.7 105.0,251.4 105.9,256.6 109.7,257.2" fill="none" stroke="#5b8fe0" stroke-width="1.0" stroke-linejoin="round"/><polyline points="69.0,254.3 70.8,254.2 72.7,253.6 74.1,254.8 75.4,248.8 76.4,247.1 78.5,248.1 79.3,249.6 79.9,255.1 81.5,254.8 82.8,247.9 83.7,247.7 85.8,248.3 86.6,250.1 87.2,256.1 88.5,255.4 89.8,248.8 90.8,247.8 92.3,249.1 93.3,247.9 94.5,248.8 95.0,255.6 97.2,256.3 98.9,258.1 100.9,256.0 102.7,252.6 103.5,256.0 104.9,252.4 106.0,256.3 109.7,257.8" fill="none" stroke="#f3a050" stroke-width="0.6" stroke-linejoin="round"/><polygon points="67.7,257.6 69.9,257.7 69.8,258.6 67.7,258.5" fill="#7b838e" opacity=".6"/><polygon points="77.7,258.3 79.9,258.5 79.9,259.4 77.7,259.2" fill="#7b838e" opacity=".6"/><polygon points="87.8,259.0 90.0,259.2 90.0,260.1 87.8,260.0" fill="#7b838e" opacity=".6"/><polygon points="98.0,259.8 100.3,259.9 100.2,260.9 98.0,260.7" fill="#7b838e" opacity=".6"/><polygon points="108.4,260.5 110.6,260.7 110.6,261.6 108.3,261.5" fill="#7b838e" opacity=".6"/><polygon points="118.8,261.3 121.1,261.5 121.1,262.4 118.8,262.2" fill="#7b838e" opacity=".6"/><polygon points="90.2,261.4 97.6,261.9 97.6,262.7 90.2,262.2" fill="#7b838e" opacity=".5"/><polygon points="66.3,237.1 67.2,237.1 67.0,240.2 66.1,240.1" fill="#7b838e" opacity=".5"/><polygon points="44.6,266.4 137.2,273.7 136.9,278.1 44.4,270.6" fill="#f1f3f5" /><polygon points="125.3,268.1 134.0,268.7 133.8,272.5 125.1,271.8" fill="#e6e9ed" stroke="#bfc6ce" stroke-width=".4"/><polygon points="127.7,269.5 131.5,269.8 131.5,270.9 127.6,270.6" fill="#6f7784" opacity=".6"/><circle cx="88.2" cy="278.9" r="1.5" fill="#c9ccd1"/><circle cx="88.2" cy="278.9" r=".8" fill="#3a3d42"/></g>
<line x1="140" y1="294.4" x2="311.5" y2="294.4" stroke="#8ccbee" stroke-width="1" stroke-dasharray="1.1 .9"/>
<polygon points="421.2,215.0 449.4,206.8 441.8,306.0 440.2,315.5 430.5,324.3 415.0,328.8 412.8,326.0" fill="url(#gSide)" stroke="#20232a" stroke-width="1.3" stroke-linejoin="round"/><polygon points="420.6,215.2 424.1,214.2 414.8,322.8 411.3,324.1" fill="#363c46" opacity=".38"/><polygon points="423.8,214.3 426.9,213.3 417.7,322.9 414.4,324.1" fill="#2f343d" opacity=".35"/><polyline points="436.5,210.5 436.6,251.4" fill="none" stroke="#14161b" stroke-width=".9"/><polygon points="423.8,255.4 441.2,251.1 440.2,291.1 423.9,294.2" fill="url(#gWin)" stroke="#0d0f17" stroke-width=".7" stroke-linejoin="round"/><polygon points="444.3,234.7 445.6,234.4 445.3,239.1 444.0,239.5" fill="#08090c" /><polygon points="423.4,238.3 424.9,237.7 424.5,243.4 423.1,244.0" fill="#0b0c10" /><polygon points="416.9,294.9 423.9,294.2 423.8,308.7 417.0,309.2" fill="#23262d" stroke="#3b404a" stroke-width=".5" stroke-linejoin="round"/><polygon points="423.9,293.1 440.2,290.5 441.6,291.8 442.0,294.5 440.6,307.3 424.2,309.3" fill="#101114" stroke="#2a2d34" stroke-width=".6" stroke-linejoin="round"/><polygon points="427.4,300.0 427.3,300.4 427.1,300.7 426.8,301.1 426.4,301.2 426.1,301.3 425.8,301.2 425.6,300.9 425.6,300.6 425.7,300.2 425.9,299.8 426.2,299.5 426.6,299.3 426.9,299.3 427.2,299.4 427.4,299.6" fill="#e6e6e6" /><polygon points="435.0,299.3 434.9,299.8 434.5,300.3 434.1,300.8 433.6,301.0 433.1,301.1 432.8,301.0 432.5,300.6 432.5,300.2 432.6,299.7 432.9,299.1 433.3,298.7 433.8,298.5 434.3,298.4 434.7,298.5 434.9,298.8" fill="#f3f3f3" /><polygon points="427.8,311.0 430.4,309.6 433.4,310.5 433.5,321.4 428.1,322.4" fill="#1d2026" stroke="#3b404a" stroke-width=".6" stroke-linejoin="round"/><polygon points="293.3,166.9 292.9,163.3 303.4,158.5 318.7,157.3 449.4,206.8 421.2,215.0 420.6,218.6" fill="url(#gTop)" stroke="#383e4a" stroke-width="1.3" stroke-linejoin="round"/><polygon points="319.9,157.7 449.4,206.8 443.9,208.4 318.4,160.3" fill="#1d2027" opacity=".75"/><polygon points="440.9,203.6 449.4,206.8 421.2,215.0 413.3,211.8" fill="#2a2f39" opacity=".7"/><polygon points="312.0,160.8 321.3,161.4 432.3,204.0 417.2,208.5 304.8,164.0" fill="url(#gPanel)" /><line x1="293.5" y1="163.0" x2="422.1" y2="214.7" stroke="#5a6272" stroke-width="0.9" opacity=".8" stroke-linecap="round"/><line x1="447.2" y1="206.6" x2="420.8" y2="214.3" stroke="#4a515e" stroke-width="1.6" opacity=".75" stroke-linecap="round"/><polygon points="307.6,162.2 311.1,163.6 309.6,164.2 306.2,162.8" fill="#eef1ff" opacity=".95"/><polygon points="312.2,162.1 316.2,163.7 315.4,164.1 311.3,162.5" fill="#9fb0f0" opacity=".55"/><polygon points="320.9,163.1 320.6,163.2 320.2,163.2 319.7,163.2 319.1,163.1 318.6,162.9 318.2,162.7 317.9,162.5 317.8,162.3 317.8,162.1 318.0,162.0 318.3,161.9 318.7,161.9 319.3,161.9 319.8,162.0 320.3,162.2 320.7,162.4 321.0,162.6 321.1,162.8 321.1,163.0" fill="#5468ff" /><polygon points="315.9,163.8 315.6,163.9 315.1,163.9 314.6,163.8 314.1,163.7 313.6,163.6 313.2,163.4 312.9,163.2 312.8,163.0 312.8,162.8 313.0,162.6 313.3,162.6 313.7,162.5 314.2,162.6 314.8,162.7 315.2,162.8 315.7,163.0 315.9,163.2 316.1,163.5 316.1,163.6" fill="#5468ff" /><polygon points="324.7,164.2 327.2,165.2 322.4,167.2 319.9,166.2" fill="#b9a778" /><polygon points="324.9,164.3 327.0,165.1 324.7,166.1 322.6,165.2" fill="#f3eedd" /><polygon points="321.9,165.8 323.4,166.4 321.9,167.0 320.4,166.4" fill="#4a4230" /><polygon points="315.8,167.2 317.3,167.8 316.5,168.2 315.0,167.6" fill="#b7c0f2" opacity=".55"/><polygon points="331.4,166.6 333.9,167.6 329.1,169.6 326.5,168.6" fill="#b9a778" /><polygon points="331.6,166.7 333.7,167.5 331.4,168.5 329.2,167.7" fill="#f3eedd" /><polygon points="328.6,168.2 330.1,168.8 328.6,169.4 327.0,168.8" fill="#4a4230" /><polygon points="322.4,169.6 323.8,170.2 323.0,170.6 321.5,170.0" fill="#b7c0f2" opacity=".55"/><polygon points="337.8,168.9 340.5,169.9 335.5,171.9 332.9,170.9" fill="#b9a778" /><polygon points="338.0,169.0 340.2,169.8 337.8,170.8 335.6,170.0" fill="#f3eedd" /><polygon points="335.0,170.5 336.5,171.1 335.0,171.7 333.4,171.1" fill="#4a4230" /><polygon points="328.6,171.9 330.2,172.5 329.3,172.9 327.7,172.3" fill="#b7c0f2" opacity=".55"/><polygon points="344.1,171.2 346.8,172.2 341.7,174.2 339.1,173.2" fill="#b9a778" /><polygon points="344.3,171.2 346.5,172.1 344.1,173.1 341.9,172.2" fill="#f3eedd" /><polygon points="341.2,172.7 342.8,173.4 341.2,174.0 339.6,173.4" fill="#4a4230" /><polygon points="334.7,174.2 336.3,174.8 335.4,175.2 333.8,174.6" fill="#b7c0f2" opacity=".55"/><polygon points="350.2,173.3 352.9,174.4 347.7,176.4 345.0,175.4" fill="#b9a778" /><polygon points="350.4,173.4 352.6,174.3 350.1,175.3 347.9,174.4" fill="#f3eedd" /><polygon points="347.2,174.9 348.8,175.6 347.2,176.2 345.6,175.6" fill="#4a4230" /><polygon points="340.6,176.4 342.2,177.0 341.2,177.3 339.7,176.7" fill="#b7c0f2" opacity=".55"/><polygon points="356.0,175.4 358.8,176.5 353.5,178.5 350.8,177.5" fill="#b9a778" /><polygon points="356.2,175.5 358.5,176.4 356.0,177.4 353.7,176.5" fill="#f3eedd" /><polygon points="353.0,177.0 354.6,177.7 353.0,178.3 351.4,177.7" fill="#4a4230" /><polygon points="346.3,178.5 347.9,179.1 347.0,179.4 345.4,178.8" fill="#b7c0f2" opacity=".55"/><polygon points="361.7,177.5 364.5,178.6 359.2,180.6 356.4,179.5" fill="#b9a778" /><polygon points="361.9,177.6 364.3,178.5 361.7,179.5 359.3,178.5" fill="#f3eedd" /><polygon points="358.6,179.1 360.3,179.7 358.6,180.4 357.0,179.7" fill="#4a4230" /><polygon points="351.8,180.5 353.4,181.1 352.5,181.5 350.9,180.9" fill="#b7c0f2" opacity=".55"/><polygon points="367.2,179.5 370.1,180.5 364.6,182.6 361.8,181.5" fill="#b9a778" /><polygon points="367.4,179.5 369.8,180.5 367.2,181.4 364.8,180.5" fill="#f3eedd" /><polygon points="364.1,181.1 365.8,181.7 364.1,182.3 362.4,181.7" fill="#4a4230" /><polygon points="357.2,182.5 358.8,183.1 357.8,183.5 356.2,182.8" fill="#b7c0f2" opacity=".55"/><polygon points="372.6,181.4 375.5,182.5 369.9,184.5 367.1,183.4" fill="#b9a778" /><polygon points="372.8,181.5 375.2,182.4 372.5,183.4 370.1,182.4" fill="#f3eedd" /><polygon points="369.4,183.0 371.1,183.6 369.4,184.3 367.7,183.6" fill="#4a4230" /><polygon points="362.4,184.4 364.0,185.0 363.0,185.4 361.4,184.7" fill="#b7c0f2" opacity=".55"/><polygon points="377.8,183.2 380.7,184.4 375.1,186.4 372.2,185.3" fill="#b9a778" /><polygon points="378.0,183.3 380.4,184.3 377.7,185.3 375.3,184.3" fill="#f3eedd" /><polygon points="374.5,184.8 376.3,185.5 374.5,186.1 372.8,185.5" fill="#4a4230" /><polygon points="367.4,186.2 369.1,186.9 368.1,187.2 366.4,186.6" fill="#b7c0f2" opacity=".55"/><polygon points="382.8,185.0 385.8,186.2 380.1,188.2 377.1,187.1" fill="#b9a778" /><polygon points="383.0,185.1 385.5,186.1 382.8,187.1 380.3,186.1" fill="#f3eedd" /><polygon points="379.5,186.7 381.3,187.3 379.5,188.0 377.7,187.3" fill="#4a4230" /><polygon points="372.3,188.0 374.0,188.7 373.0,189.1 371.2,188.4" fill="#b7c0f2" opacity=".55"/><polygon points="387.7,186.8 390.7,188.0 384.9,190.0 381.9,188.8" fill="#b9a778" /><polygon points="387.9,186.9 390.4,187.9 387.6,188.8 385.1,187.9" fill="#f3eedd" /><polygon points="384.4,188.4 386.1,189.1 384.3,189.7 382.5,189.0" fill="#4a4230" /><polygon points="377.0,189.8 378.8,190.4 377.7,190.8 376.0,190.1" fill="#b7c0f2" opacity=".55"/><polygon points="392.4,188.5 395.5,189.7 389.6,191.7 386.6,190.5" fill="#b9a778" /><polygon points="392.7,188.6 395.2,189.6 392.4,190.6 389.8,189.6" fill="#f3eedd" /><polygon points="389.1,190.1 390.9,190.8 389.0,191.4 387.2,190.7" fill="#4a4230" /><polygon points="381.6,191.5 383.4,192.1 382.3,192.5 380.6,191.8" fill="#b7c0f2" opacity=".55"/><polygon points="399.5,192.3 405.2,194.5 399.9,196.3 394.2,194.1" fill="#bfae7c" /><polygon points="399.8,192.2 404.8,194.1 402.3,194.9 397.3,193.0" fill="#f6f1e0" /><polygon points="397.8,193.9 400.8,195.0 399.0,195.6 396.0,194.5" fill="#3a3322" /><polygon points="406.4,195.0 412.3,197.2 406.8,199.0 401.0,196.8" fill="#bfae7c" /><polygon points="406.7,194.8 411.8,196.8 409.3,197.6 404.2,195.7" fill="#f6f1e0" /><polygon points="404.7,196.5 407.7,197.7 405.9,198.3 402.9,197.1" fill="#3a3322" /><polygon points="390.0,193.4 389.8,193.4 389.6,193.4 389.3,193.4 389.0,193.4 388.8,193.3 388.6,193.2 388.5,193.1 388.4,193.0 388.4,192.9 388.6,192.8 388.7,192.8 389.0,192.8 389.3,192.8 389.5,192.9 389.8,192.9 390.0,193.0 390.1,193.1 390.2,193.2 390.1,193.3" fill="#e8ecff" /><polygon points="396.0,197.3 401.2,199.4 399.0,200.1 393.8,198.0" fill="#f2f4ff" opacity=".8"/><polygon points="427.1,205.1 425.4,205.3 423.0,205.2 420.0,204.7 417.0,203.9 414.0,202.9 411.5,201.7 409.6,200.6 408.6,199.6 408.5,198.7 409.3,198.2 410.9,197.9 413.3,198.1 416.2,198.5 419.2,199.3 422.2,200.3 424.8,201.5 426.8,202.6 427.9,203.7 428.0,204.5" fill="#414a86" /><polygon points="425.8,204.6 424.4,204.8 422.3,204.6 419.9,204.2 417.2,203.5 414.7,202.7 412.6,201.7 410.9,200.7 410.0,199.8 409.9,199.1 410.5,198.7 411.9,198.5 413.9,198.6 416.4,199.0 419.0,199.7 421.5,200.5 423.7,201.5 425.4,202.5 426.4,203.4 426.5,204.1" fill="#0a0b0e" /><polygon points="422.2,202.6 421.5,202.7 420.6,202.6 419.4,202.4 418.1,202.0 416.8,201.6 415.7,201.1 414.8,200.6 414.3,200.2 414.1,199.8 414.4,199.6 415.1,199.5 416.0,199.6 417.2,199.8 418.5,200.2 419.8,200.6 421.0,201.1 421.8,201.6 422.4,202.1 422.5,202.4" fill="#1f2228" /><g><polygon points="388.3,226.5 420.5,215.2 411.0,327.5 383.3,340.5" fill="url(#gSide)" stroke="#20232a" stroke-width="1.3" stroke-linejoin="round"/><polygon points="387.6,226.7 391.7,225.3 385.2,337.3 381.6,339.2" fill="#363c46" opacity=".38"/><polygon points="391.3,225.4 395.0,224.2 388.2,336.8 384.9,338.5" fill="#2f343d" opacity=".35"/><polyline points="406.1,220.3 406.4,265.8" fill="none" stroke="#14161b" stroke-width=".9"/><polygon points="392.6,271.5 411.3,264.9 410.2,304.2 393.7,309.8" fill="url(#gWin)" stroke="#0d0f17" stroke-width=".7" stroke-linejoin="round"/><polygon points="414.6,247.2 416.0,246.7 415.7,251.8 414.3,252.3" fill="#08090c" /><polygon points="386.4,311.7 393.7,309.8 393.9,323.1 387.0,324.9" fill="#23262d" stroke="#3b404a" stroke-width=".5" stroke-linejoin="round"/><polygon points="393.7,308.8 410.2,303.6 411.6,304.6 412.0,307.0 410.6,318.7 394.3,323.6" fill="#101114" stroke="#2a2d34" stroke-width=".6" stroke-linejoin="round"/><polygon points="397.4,314.6 397.3,315.0 397.1,315.4 396.8,315.7 396.4,315.9 396.1,316.0 395.9,316.0 395.7,315.7 395.6,315.4 395.7,315.0 395.9,314.6 396.2,314.3 396.6,314.1 396.9,314.0 397.1,314.0 397.3,314.3" fill="#e6e6e6" /><polygon points="405.0,312.6 404.9,313.2 404.6,313.7 404.2,314.2 403.7,314.5 403.3,314.6 402.9,314.5 402.7,314.2 402.6,313.8 402.7,313.2 403.0,312.7 403.4,312.2 403.9,311.9 404.3,311.8 404.7,311.9 404.9,312.2" fill="#f3f3f3" /><polygon points="398.0,324.4 400.6,322.6 403.6,322.9 403.8,332.3 398.5,334.2" fill="#1d2026" stroke="#3b404a" stroke-width=".6" stroke-linejoin="round"/><polygon points="262.2,172.6 261.9,169.0 272.3,164.1 291.3,162.9 420.5,215.2 388.3,226.5 387.7,230.1" fill="url(#gTop)" stroke="#383e4a" stroke-width="1.3" stroke-linejoin="round"/><polygon points="289.7,162.3 420.5,215.2 414.2,217.4 287.7,165.0" fill="#1d2027" opacity=".75"/><polygon points="410.9,211.3 420.5,215.2 388.3,226.5 379.6,222.5" fill="#2a2f39" opacity=".7"/><polygon points="281.2,165.7 290.3,166.1 401.3,212.0 384.2,218.2 273.4,169.3" fill="url(#gPanel)" /><line x1="262.6" y1="168.7" x2="389.4" y2="226.1" stroke="#5a6272" stroke-width="0.9" opacity=".8" stroke-linecap="round"/><line x1="418.0" y1="214.9" x2="387.9" y2="225.6" stroke="#4a515e" stroke-width="1.6" opacity=".75" stroke-linecap="round"/><polygon points="278.8,167.6 281.8,168.9 280.3,169.6 277.3,168.3" fill="#e8ecff" opacity=".95"/><polygon points="283.2,166.7 287.2,168.4 286.2,168.8 282.3,167.1" fill="#9fb0f0" opacity=".6"/><polygon points="290.0,168.6 289.7,168.7 289.2,168.8 288.7,168.7 288.2,168.6 287.8,168.5 287.4,168.3 287.2,168.1 287.1,167.8 287.1,167.7 287.3,167.5 287.6,167.4 288.1,167.4 288.5,167.4 289.0,167.5 289.5,167.7 289.9,167.9 290.1,168.1 290.2,168.3 290.2,168.5" fill="#5468ff" /><polygon points="305.2,174.0 317.7,179.2 310.8,182.2 298.6,176.9" fill="#9ea6b0" /><polygon points="306.0,175.2 314.7,178.9 310.0,180.9 301.3,177.2" fill="#08090b" /><polygon points="321.8,180.5 331.5,184.5 324.7,187.4 315.2,183.3" fill="#b4bbc6" /><polygon points="322.5,181.9 327.9,184.2 324.0,185.8 318.7,183.6" fill="#f2f4f7" /><polygon points="331.9,185.7 339.7,189.0 333.7,191.5 325.9,188.2" fill="#8f97a3" /><polygon points="331.6,186.5 337.7,189.1 333.9,190.6 327.9,188.1" fill="#14161b" /><polygon points="339.6,188.9 347.7,192.3 341.5,194.9 333.5,191.4" fill="#8f97a3" /><polygon points="339.4,189.8 345.6,192.4 341.7,194.0 335.5,191.3" fill="#14161b" /><polygon points="338.8,191.0 342.7,192.6 341.2,193.2 337.3,191.6" fill="#5f9a6e" /><polygon points="331.1,187.7 334.9,189.3 333.4,189.9 329.6,188.3" fill="#7d848f" /><polygon points="332.8,193.2 343.1,197.7 341.7,198.3 331.4,193.7" fill="#c7cff5" opacity=".55"/><polygon points="353.4,195.3 353.1,195.4 352.8,195.4 352.4,195.4 352.0,195.3 351.6,195.2 351.3,195.0 351.1,194.8 351.0,194.7 351.0,194.5 351.2,194.4 351.5,194.3 351.8,194.3 352.2,194.4 352.6,194.5 353.0,194.6 353.3,194.7 353.5,194.9 353.6,195.1 353.6,195.2" fill="#07080a" /><polygon points="372.4,201.0 376.9,202.9 372.8,204.4 368.4,202.5" fill="#e4e4e4" /><polygon points="372.3,201.8 374.9,202.9 372.9,203.7 370.3,202.5" fill="#30333b" /><polygon points="376.8,202.8 381.4,204.8 377.3,206.3 372.7,204.4" fill="#e4e4e4" /><polygon points="376.7,203.6 379.4,204.8 377.3,205.5 374.7,204.4" fill="#30333b" /><polygon points="358.6,201.3 366.2,204.6 364.9,205.1 357.2,201.8" fill="#d6dcff" opacity=".65"/><polygon points="365.2,205.5 369.9,207.6 367.4,208.5 362.7,206.5" fill="#f2f4ff" opacity=".85"/><polygon points="395.8,214.9 393.8,215.2 391.1,215.1 387.9,214.5 384.5,213.6 381.3,212.4 378.6,211.0 376.6,209.7 375.5,208.4 375.5,207.4 376.4,206.7 378.2,206.3 380.8,206.4 384.0,206.9 387.3,207.8 390.5,209.0 393.4,210.3 395.5,211.8 396.7,213.1 396.8,214.2" fill="#414a86" /><polygon points="394.3,214.3 392.7,214.5 390.4,214.4 387.7,213.9 384.8,213.1 382.1,212.1 379.7,210.9 378.0,209.8 377.1,208.7 377.0,207.8 377.7,207.2 379.3,207.0 381.5,207.1 384.1,207.5 387.0,208.3 389.7,209.3 392.2,210.4 394.0,211.6 395.0,212.7 395.1,213.7" fill="#0a0b0e" /><polygon points="390.4,211.9 389.7,212.0 388.6,211.9 387.2,211.6 385.8,211.2 384.4,210.7 383.2,210.1 382.3,209.5 381.8,209.0 381.6,208.6 382.0,208.3 382.7,208.2 383.8,208.3 385.1,208.5 386.5,208.9 387.9,209.4 389.1,210.0 390.0,210.6 390.6,211.2 390.7,211.6" fill="#1f2228" /><polygon points="265.4,174.2 384.9,228.6 379.0,336.6 269.7,264.7" fill="url(#gFront)" stroke="url(#gFront)" stroke-width="6.6" stroke-linejoin="round"/><line x1="262.4" y1="169.6" x2="385.9" y2="225.9" stroke="#596171" stroke-width="1.0" opacity=".75" stroke-linecap="round"/><line x1="262.3" y1="170.2" x2="266.7" y2="263.1" stroke="#4a515f" stroke-width="1.0" opacity=".6" stroke-linecap="round"/><polygon points="378.7,223.7 388.2,228.0 382.2,338.8 373.7,333.3" fill="#343a44" opacity=".35"/><polygon points="383.8,225.5 389.2,228.0 383.1,338.3 378.2,335.1" fill="#373d47" opacity=".4"/><polygon points="277.0,187.0 365.5,229.0 362.3,310.8 279.7,258.1" fill="#141c44" stroke="#131a3e" stroke-width="1.8" stroke-linejoin="round"/><polygon points="277.0,187.0 365.5,229.0 362.3,310.8 279.7,258.1" fill="url(#gScreen)" /><polygon points="277.0,187.0 365.5,229.0 364.9,244.5 277.5,200.3" fill="#1a2356" /><polygon points="277.0,187.0 365.5,229.0 365.3,234.4 277.2,191.7" fill="#151c48" /><polygon points="279.7,190.8 279.6,191.4 279.4,191.8 279.1,192.0 278.8,191.9 278.4,191.6 278.1,191.1 277.9,190.5 277.8,189.9 277.8,189.3 278.0,188.9 278.3,188.7 278.7,188.8 279.0,189.1 279.3,189.5 279.6,190.2" fill="#6fc0ff" /><polygon points="280.4,190.4 287.6,193.8 287.6,195.4 280.4,191.9" fill="#4f86e0" opacity=".85"/><polygon points="278.1,193.8 285.0,197.2 285.3,204.2 278.4,200.8" fill="#232d66" /><polygon points="279.1,196.0 284.3,198.6 284.4,201.8 279.2,199.2" fill="#e8ecf8" opacity=".8"/><polygon points="286.1,197.0 294.7,201.2 294.9,209.1 286.4,204.8" fill="#66d7df" /><polygon points="287.7,200.0 293.2,202.7 293.2,206.0 287.8,203.3" fill="#d8f6f8" opacity=".7"/><polygon points="296.3,204.3 298.1,205.1 298.2,209.8 296.4,208.9" fill="#f0a030" /><polygon points="298.9,206.7 304.6,209.5 304.6,212.2 298.9,209.4" fill="#f2f4fa" opacity=".78"/><polygon points="299.5,203.5 314.5,210.8 314.5,212.2 299.5,204.8" fill="#aab4d4" opacity=".6"/><polygon points="307.7,209.9 309.6,210.8 309.6,215.5 307.8,214.6" fill="#3fcf55" /><polygon points="310.4,212.4 317.7,216.0 317.7,218.8 310.4,215.2" fill="#f2f4fa" opacity=".78"/><polygon points="319.7,215.8 321.7,216.8 321.7,221.6 319.7,220.6" fill="#36c848" /><polygon points="322.6,218.4 331.6,222.9 331.6,225.8 322.6,221.2" fill="#f2f4fa" opacity=".78"/><polygon points="335.2,220.9 358.9,232.5 358.9,234.1 335.2,222.4" fill="#c3cbe2" opacity=".7"/><polygon points="335.2,223.4 337.3,224.5 337.2,229.4 335.1,228.4" fill="#d02a8a" /><polygon points="338.2,226.2 345.4,229.8 345.4,232.7 338.2,229.1" fill="#f2f4fa" opacity=".78"/><polygon points="351.2,231.3 353.4,232.4 353.3,237.5 351.1,236.4" fill="#a040e0" /><polygon points="354.4,234.2 363.2,238.5 363.1,241.6 354.3,237.2" fill="#f2f4fa" opacity=".78"/><polygon points="354.3,238.0 359.5,240.6 359.5,242.3 354.3,239.7" fill="#f2f4fa" opacity=".7"/><polygon points="277.5,200.3 295.6,209.5 297.0,269.1 279.7,258.1" fill="#e8eff4" /><polygon points="278.4,201.5 283.8,204.2 283.9,208.3 278.6,205.6" fill="#2a4fd0" /><polygon points="284.9,205.7 292.2,209.4 292.2,211.7 285.0,207.9" fill="#aab3c0" opacity=".8"/><polygon points="292.9,208.9 295.3,210.1 295.4,214.3 293.0,213.0" fill="#2a4fd0" /><polygon points="279.8,207.4 284.5,209.9 285.7,212.0 285.8,214.1 284.6,215.0 280.0,212.6 278.7,210.4 278.7,208.4" fill="#62d5dc" /><polygon points="280.9,209.9 283.5,211.3 283.5,212.5 280.9,211.1" fill="#e9fbfc" opacity=".55"/><polygon points="288.2,211.8 293.4,214.5 294.6,216.7 294.7,218.8 293.5,219.7 288.3,217.0 287.1,214.8 287.0,212.7" fill="#62d5dc" /><polygon points="289.3,214.3 292.3,215.9 292.4,217.2 289.3,215.6" fill="#e9fbfc" opacity=".55"/><polygon points="280.0,214.2 284.7,216.7 285.9,218.9 286.0,220.9 284.9,221.8 280.2,219.2 279.0,217.1 278.9,215.1" fill="#62d5dc" /><polygon points="281.1,216.6 283.7,218.1 283.8,219.3 281.1,217.9" fill="#e9fbfc" opacity=".55"/><polygon points="288.4,218.6 293.5,221.4 294.8,223.6 294.9,225.7 293.7,226.6 288.5,223.8 287.3,221.6 287.2,219.5" fill="#62d5dc" /><polygon points="289.5,221.2 292.5,222.8 292.5,224.1 289.5,222.4" fill="#e9fbfc" opacity=".55"/><polygon points="280.3,220.8 284.9,223.4 286.1,225.6 286.2,227.6 285.1,228.5 280.4,225.9 279.2,223.7 279.2,221.7" fill="#62d5dc" /><polygon points="281.3,223.3 283.9,224.8 284.0,226.0 281.4,224.5" fill="#e9fbfc" opacity=".55"/><polygon points="288.6,225.4 293.7,228.2 295.0,230.5 295.0,232.5 293.8,233.4 288.7,230.5 287.5,228.3 287.4,226.3" fill="#62d5dc" /><polygon points="289.7,227.9 292.7,229.6 292.7,230.8 289.7,229.2" fill="#e9fbfc" opacity=".55"/><polygon points="280.5,227.4 285.1,230.1 286.4,232.2 286.4,234.2 285.3,235.1 280.7,232.4 279.5,230.3 279.4,228.3" fill="#62d5dc" /><polygon points="281.6,229.9 284.2,231.4 284.2,232.6 281.6,231.1" fill="#e9fbfc" opacity=".55"/><polygon points="288.7,232.1 293.9,235.0 295.1,237.2 295.2,239.3 294.0,240.1 288.9,237.1 287.7,235.0 287.6,232.9" fill="#62d5dc" /><polygon points="289.8,234.6 292.9,236.3 292.9,237.5 289.9,235.8" fill="#e9fbfc" opacity=".55"/><polygon points="280.7,234.0 285.3,236.6 286.6,238.8 286.6,240.8 285.5,241.6 280.9,238.9 279.7,236.7 279.6,234.8" fill="#62d5dc" /><polygon points="281.8,236.4 284.4,237.9 284.4,239.1 281.8,237.6" fill="#e9fbfc" opacity=".55"/><polygon points="288.9,238.7 294.0,241.7 295.3,243.9 295.3,245.9 294.2,246.7 289.1,243.7 287.9,241.5 287.8,239.5" fill="#62d5dc" /><polygon points="290.0,241.2 293.0,243.0 293.1,244.2 290.1,242.4" fill="#e9fbfc" opacity=".55"/><polygon points="281.0,240.4 285.5,243.1 286.8,245.3 286.8,247.3 285.7,248.0 281.1,245.3 280.0,243.1 279.9,241.2" fill="#62d5dc" /><polygon points="282.0,242.8 284.6,244.4 284.6,245.6 282.1,244.0" fill="#e9fbfc" opacity=".55"/><polygon points="289.1,245.3 294.2,248.3 295.4,250.5 295.5,252.5 294.3,253.2 289.3,250.2 288.1,248.0 288.0,246.0" fill="#62d5dc" /><polygon points="290.2,247.8 293.2,249.5 293.2,250.7 290.2,248.9" fill="#e9fbfc" opacity=".55"/><polygon points="281.2,246.8 285.8,249.6 287.0,251.7 287.0,253.7 285.9,254.4 281.4,251.6 280.2,249.4 280.1,247.5" fill="#b4bfc2" /><polygon points="282.2,249.2 284.8,250.8 284.8,251.9 282.3,250.4" fill="#e9fbfc" opacity=".55"/><polygon points="289.3,251.7 294.4,254.8 295.6,257.0 295.6,259.0 294.5,259.7 289.5,256.6 288.3,254.4 288.2,252.5" fill="#62d5dc" /><polygon points="290.4,254.2 293.4,256.0 293.4,257.2 290.4,255.4" fill="#e9fbfc" opacity=".55"/><polygon points="281.2,253.2 294.4,261.5 295.7,263.7 295.7,266.4 294.6,267.1 281.4,258.7 280.3,256.7 280.2,254.0" fill="#49d63f" /><line x1="296.0" y1="209.7" x2="297.4" y2="269.4" stroke="#cbd7e6" stroke-width="0.6" /><line x1="311.6" y1="217.5" x2="312.1" y2="278.8" stroke="#cbd7e6" stroke-width="0.6" /><line x1="328.2" y1="225.9" x2="327.8" y2="288.8" stroke="#cbd7e6" stroke-width="0.6" /><line x1="346.1" y1="235.0" x2="344.7" y2="299.6" stroke="#cbd7e6" stroke-width="0.6" /><line x1="296.0" y1="209.9" x2="364.9" y2="244.7" stroke="#c2d0e2" stroke-width="0.5" /><polygon points="296.9,211.2 305.3,215.5 305.3,216.9 296.9,212.6" fill="#7aa0e0" opacity=".5"/><polygon points="302.4,217.1 306.2,219.1 306.2,220.8 302.4,218.8" fill="#5a6170" opacity=".5"/><polygon points="299.7,216.1 300.6,216.6 300.6,217.7 299.7,217.2" fill="#8aa0c0" opacity=".6"/><polygon points="303.2,220.9 306.2,222.5 306.3,224.0 303.2,222.4" fill="#6a7180" opacity=".42"/><polygon points="312.4,219.1 323.7,224.9 323.7,226.3 312.4,220.6" fill="#7aa0e0" opacity=".5"/><polygon points="318.3,225.3 322.4,227.4 322.4,229.1 318.3,227.0" fill="#5a6170" opacity=".5"/><polygon points="315.4,224.2 316.4,224.7 316.4,225.9 315.4,225.4" fill="#8aa0c0" opacity=".6"/><polygon points="329.1,227.6 343.7,235.0 343.6,236.5 329.1,229.1" fill="#7aa0e0" opacity=".5"/><polygon points="335.3,234.1 339.8,236.3 339.7,238.1 335.3,235.9" fill="#5a6170" opacity=".5"/><polygon points="332.3,232.9 333.3,233.4 333.3,234.6 332.3,234.1" fill="#8aa0c0" opacity=".6"/><polygon points="336.2,238.1 339.7,239.9 339.7,241.6 336.2,239.7" fill="#6a7180" opacity=".42"/><polygon points="347.1,236.7 357.6,242.1 357.5,243.6 347.0,238.2" fill="#7aa0e0" opacity=".5"/><polygon points="353.7,243.5 358.5,246.0 358.4,247.8 353.7,245.4" fill="#5a6170" opacity=".5"/><polygon points="350.4,242.3 351.5,242.8 351.5,244.1 350.4,243.5" fill="#8aa0c0" opacity=".6"/><line x1="296.3" y1="220.3" x2="364.4" y2="256.4" stroke="#c2d0e2" stroke-width="0.5" /><polygon points="297.1,221.6 307.5,227.2 307.5,228.5 297.1,223.0" fill="#7aa0e0" opacity=".5"/><polygon points="302.5,227.5 306.3,229.6 306.4,231.2 302.6,229.2" fill="#5a6170" opacity=".5"/><polygon points="299.9,226.5 300.8,227.0 300.8,228.1 299.9,227.6" fill="#8aa0c0" opacity=".6"/><polygon points="312.5,229.8 325.9,236.9 325.9,238.4 312.5,231.2" fill="#7aa0e0" opacity=".5"/><polygon points="315.5,234.9 316.4,235.4 316.4,236.5 315.5,236.0" fill="#8aa0c0" opacity=".6"/><polygon points="319.2,239.9 322.4,241.6 322.4,243.2 319.2,241.4" fill="#6a7180" opacity=".42"/><polygon points="329.0,238.6 338.7,243.7 338.7,245.2 329.0,240.0" fill="#7aa0e0" opacity=".5"/><polygon points="335.2,245.1 339.6,247.4 339.6,249.2 335.2,246.8" fill="#5a6170" opacity=".5"/><polygon points="332.2,243.9 333.2,244.4 333.2,245.6 332.2,245.1" fill="#8aa0c0" opacity=".6"/><polygon points="346.8,248.0 359.8,254.9 359.7,256.4 346.8,249.5" fill="#7aa0e0" opacity=".5"/><polygon points="353.4,254.9 358.1,257.4 358.1,259.2 353.3,256.7" fill="#5a6170" opacity=".5"/><polygon points="350.1,253.5 351.2,254.1 351.2,255.3 350.1,254.8" fill="#8aa0c0" opacity=".6"/><polygon points="354.3,259.0 358.0,261.0 357.9,262.7 354.2,260.6" fill="#6a7180" opacity=".42"/><line x1="296.5" y1="230.5" x2="364.0" y2="267.8" stroke="#c2d0e2" stroke-width="0.5" /><polygon points="297.3,231.8 309.7,238.7 309.7,240.1 297.3,233.2" fill="#7aa0e0" opacity=".5"/><polygon points="302.7,237.8 306.5,239.9 306.5,241.5 302.7,239.4" fill="#5a6170" opacity=".5"/><polygon points="300.1,236.7 301.0,237.2 301.0,238.3 300.1,237.8" fill="#8aa0c0" opacity=".6"/><polygon points="303.5,241.5 306.5,243.2 306.5,244.6 303.6,242.9" fill="#6a7180" opacity=".42"/><polygon points="312.6,240.3 321.5,245.2 321.5,246.6 312.6,241.7" fill="#7aa0e0" opacity=".5"/><polygon points="318.3,246.5 322.4,248.8 322.4,250.5 318.3,248.2" fill="#5a6170" opacity=".5"/><polygon points="315.5,245.3 316.5,245.9 316.5,247.0 315.5,246.5" fill="#8aa0c0" opacity=".6"/><polygon points="329.0,249.4 340.9,256.0 340.8,257.4 329.0,250.8" fill="#7aa0e0" opacity=".5"/><polygon points="335.1,255.9 339.4,258.3 339.4,260.1 335.1,257.6" fill="#5a6170" opacity=".5"/><polygon points="332.1,254.6 333.1,255.2 333.1,256.3 332.1,255.8" fill="#8aa0c0" opacity=".6"/><polygon points="335.9,259.9 339.4,261.8 339.3,263.3 335.9,261.4" fill="#6a7180" opacity=".42"/><polygon points="346.6,259.1 361.9,267.6 361.8,269.1 346.5,260.5" fill="#7aa0e0" opacity=".5"/><polygon points="349.8,264.6 350.9,265.2 350.9,266.4 349.8,265.8" fill="#8aa0c0" opacity=".6"/><line x1="296.7" y1="240.5" x2="363.5" y2="278.9" stroke="#c2d0e2" stroke-width="0.5" /><polygon points="297.5,241.9 305.8,246.6 305.8,247.9 297.5,243.2" fill="#7aa0e0" opacity=".5"/><polygon points="300.3,246.7 301.1,247.2 301.2,248.3 300.3,247.8" fill="#8aa0c0" opacity=".6"/><polygon points="312.7,250.6 323.6,256.9 323.6,258.3 312.7,251.9" fill="#7aa0e0" opacity=".5"/><polygon points="318.4,256.9 322.4,259.2 322.4,260.8 318.4,258.5" fill="#5a6170" opacity=".5"/><polygon points="315.6,255.6 316.5,256.1 316.5,257.3 315.6,256.7" fill="#8aa0c0" opacity=".6"/><polygon points="319.2,260.6 322.3,262.5 322.3,264.0 319.2,262.1" fill="#6a7180" opacity=".42"/><polygon points="328.9,259.9 343.0,268.1 343.0,269.5 328.9,261.3" fill="#7aa0e0" opacity=".5"/><polygon points="334.9,266.5 339.2,269.0 339.2,270.7 334.9,268.2" fill="#5a6170" opacity=".5"/><polygon points="332.0,265.2 333.0,265.7 332.9,266.9 332.0,266.3" fill="#8aa0c0" opacity=".6"/><polygon points="346.3,270.0 356.5,275.8 356.4,277.3 346.3,271.4" fill="#7aa0e0" opacity=".5"/><polygon points="352.8,276.9 357.4,279.6 357.3,281.3 352.7,278.6" fill="#5a6170" opacity=".5"/><polygon points="349.6,275.4 350.6,276.0 350.6,277.2 349.5,276.6" fill="#8aa0c0" opacity=".6"/><polygon points="353.6,280.9 357.3,283.1 357.2,284.6 353.6,282.5" fill="#6a7180" opacity=".42"/><line x1="296.9" y1="250.4" x2="363.1" y2="289.8" stroke="#c2d0e2" stroke-width="0.5" /><polygon points="297.7,251.7 307.9,257.8 307.9,259.1 297.7,253.0" fill="#7aa0e0" opacity=".5"/><polygon points="303.0,257.7 306.7,260.0 306.8,261.5 303.1,259.3" fill="#5a6170" opacity=".5"/><polygon points="300.5,256.5 301.3,257.0 301.3,258.1 300.5,257.6" fill="#8aa0c0" opacity=".6"/><polygon points="303.9,261.3 306.8,263.1 306.8,264.5 303.9,262.7" fill="#6a7180" opacity=".42"/><polygon points="312.7,260.7 325.8,268.5 325.8,269.8 312.8,262.0" fill="#7aa0e0" opacity=".5"/><polygon points="318.4,267.0 322.3,269.4 322.3,271.0 318.4,268.6" fill="#5a6170" opacity=".5"/><polygon points="315.6,265.7 316.6,266.2 316.6,267.3 315.7,266.8" fill="#8aa0c0" opacity=".6"/><polygon points="328.8,270.3 338.2,275.9 338.2,277.3 328.8,271.6" fill="#7aa0e0" opacity=".5"/><polygon points="331.9,275.5 332.9,276.1 332.8,277.2 331.9,276.6" fill="#8aa0c0" opacity=".6"/><polygon points="335.7,280.8 339.0,282.8 339.0,284.3 335.6,282.3" fill="#6a7180" opacity=".42"/><polygon points="346.1,280.6 358.6,288.1 358.5,289.5 346.0,282.0" fill="#7aa0e0" opacity=".5"/><polygon points="352.5,287.6 357.0,290.3 357.0,292.0 352.4,289.3" fill="#5a6170" opacity=".5"/><polygon points="349.3,286.0 350.3,286.7 350.3,287.8 349.3,287.2" fill="#8aa0c0" opacity=".6"/><line x1="297.2" y1="260.1" x2="362.7" y2="300.5" stroke="#c2d0e2" stroke-width="0.5" /><polygon points="297.9,261.4 310.0,268.9 310.0,270.1 298.0,262.6" fill="#7aa0e0" opacity=".5"/><polygon points="303.2,267.4 306.9,269.7 306.9,271.3 303.2,269.0" fill="#5a6170" opacity=".5"/><polygon points="300.7,266.2 301.5,266.7 301.5,267.8 300.7,267.2" fill="#8aa0c0" opacity=".6"/><polygon points="312.8,270.6 321.5,276.0 321.5,277.3 312.8,271.9" fill="#7aa0e0" opacity=".5"/><polygon points="318.4,276.9 322.3,279.4 322.3,281.0 318.4,278.5" fill="#5a6170" opacity=".5"/><polygon points="315.7,275.6 316.6,276.2 316.6,277.2 315.7,276.7" fill="#8aa0c0" opacity=".6"/><polygon points="319.2,280.6 322.3,282.6 322.3,284.0 319.2,282.1" fill="#6a7180" opacity=".42"/><polygon points="328.8,280.5 340.3,287.6 340.3,289.0 328.7,281.8" fill="#7aa0e0" opacity=".5"/><polygon points="334.7,287.1 338.9,289.7 338.9,291.4 334.7,288.7" fill="#5a6170" opacity=".5"/><polygon points="331.8,285.7 332.7,286.3 332.7,287.4 331.8,286.8" fill="#8aa0c0" opacity=".6"/><polygon points="345.8,291.0 360.7,300.2 360.6,301.6 345.8,292.4" fill="#7aa0e0" opacity=".5"/><polygon points="352.1,298.0 356.7,300.9 356.6,302.5 352.1,299.7" fill="#5a6170" opacity=".5"/><polygon points="349.0,296.5 350.0,297.1 350.0,298.2 349.0,297.6" fill="#8aa0c0" opacity=".6"/><polygon points="353.0,302.0 356.5,304.2 356.5,305.7 353.0,303.5" fill="#6a7180" opacity=".42"/><polygon points="382.1,226.5 391.4,229.5 394.6,232.6 393.9,235.4 391.1,235.7 382.8,232.5 380.9,229.3" fill="#2b2f37" stroke="#0f1115" stroke-width="1.2" stroke-linejoin="round"/><line x1="382.6" y1="226.5" x2="391.4" y2="229.5" stroke="#555c69" stroke-width="0.7" opacity=".8"/></g>
<g><polygon points="723.0,55.4 749.0,46.5 741.0,149.0 719.8,159.5" fill="url(#gSide)" stroke="#20232a" stroke-width="1.3" stroke-linejoin="round"/><polygon points="722.4,55.6 725.7,54.5 721.0,157.0 718.2,158.6" fill="#363c46" opacity=".38"/><polygon points="725.5,54.6 728.4,53.5 723.3,156.7 720.7,158.1" fill="#2f343d" opacity=".35"/><polyline points="737.4,50.5 737.6,93.2" fill="none" stroke="#14161b" stroke-width=".9"/><polygon points="726.6,97.9 741.4,92.7 740.5,128.3 727.5,132.8" fill="url(#gWin)" stroke="#0d0f17" stroke-width=".7" stroke-linejoin="round"/><polygon points="744.1,76.4 745.2,76.0 745.0,80.7 743.9,81.1" fill="#08090c" /><polygon points="721.8,134.3 727.5,132.8 727.7,144.7 722.3,146.1" fill="#23262d" stroke="#3b404a" stroke-width=".5" stroke-linejoin="round"/><polygon points="727.5,131.9 740.5,127.8 741.5,128.7 741.8,130.9 740.7,141.2 728.0,145.1" fill="#101114" stroke="#2a2d34" stroke-width=".6" stroke-linejoin="round"/><polygon points="730.6,137.1 730.5,137.5 730.3,137.9 730.0,138.2 729.7,138.5 729.4,138.6 729.1,138.5 728.9,138.3 728.9,138.0 729.0,137.6 729.2,137.2 729.5,136.8 729.8,136.6 730.1,136.5 730.4,136.6 730.5,136.8" fill="#e6e6e6" /><polygon points="736.6,135.5 736.5,136.1 736.2,136.6 735.8,137.1 735.4,137.4 734.9,137.6 734.6,137.5 734.3,137.2 734.3,136.8 734.4,136.2 734.7,135.7 735.1,135.2 735.5,134.9 736.0,134.7 736.3,134.8 736.6,135.1" fill="#f3f3f3" /><polygon points="730.9,145.9 733.0,144.4 735.3,144.8 735.4,153.0 731.3,154.6" fill="#1d2026" stroke="#3b404a" stroke-width=".6" stroke-linejoin="round"/><polygon points="611.0,12.8 610.6,9.2 621.3,4.8 635.6,4.0 749.0,46.5 723.0,55.4 722.4,59.0" fill="url(#gTop)" stroke="#383e4a" stroke-width="1.3" stroke-linejoin="round"/><polygon points="635.8,4.1 749.0,46.5 744.0,48.2 634.0,6.3" fill="#1d2027" opacity=".75"/><polygon points="741.1,43.5 749.0,46.5 723.0,55.4 715.6,52.4" fill="#2a2f39" opacity=".7"/><polygon points="628.2,6.8 636.5,7.2 733.3,44.1 719.3,49.0 621.2,9.6" fill="url(#gPanel)" /><line x1="611.2" y1="8.9" x2="723.9" y2="55.1" stroke="#5a6272" stroke-width="0.9" opacity=".8" stroke-linecap="round"/><line x1="747.0" y1="46.3" x2="722.6" y2="54.7" stroke="#4a515e" stroke-width="1.6" opacity=".75" stroke-linecap="round"/><polygon points="626.1,8.3 628.8,9.3 627.5,9.9 624.8,8.8" fill="#e8ecff" opacity=".95"/><polygon points="630.0,7.6 633.7,9.0 632.9,9.3 629.2,7.9" fill="#9fb0f0" opacity=".6"/><polygon points="636.2,9.3 635.9,9.3 635.6,9.3 635.1,9.3 634.7,9.2 634.2,9.1 633.9,8.9 633.7,8.7 633.6,8.6 633.6,8.4 633.8,8.3 634.1,8.2 634.5,8.2 634.9,8.2 635.3,8.3 635.8,8.5 636.1,8.6 636.3,8.8 636.4,9.0 636.4,9.1" fill="#5468ff" /><polygon points="650.0,13.7 661.2,18.0 655.3,20.4 644.2,16.0" fill="#9ea6b0" /><polygon points="650.7,14.7 658.6,17.7 654.5,19.4 646.7,16.3" fill="#08090b" /><polygon points="664.9,19.1 673.5,22.4 667.6,24.6 659.2,21.3" fill="#b4bbc6" /><polygon points="665.5,20.3 670.3,22.1 666.9,23.4 662.2,21.6" fill="#f2f4f7" /><polygon points="673.8,23.3 680.8,26.0 675.6,28.0 668.7,25.3" fill="#8f97a3" /><polygon points="673.7,24.0 679.0,26.1 675.7,27.3 670.5,25.2" fill="#14161b" /><polygon points="680.6,25.9 687.8,28.7 682.5,30.7 675.4,27.9" fill="#8f97a3" /><polygon points="680.5,26.6 685.9,28.7 682.6,30.0 677.2,27.8" fill="#14161b" /><polygon points="680.0,27.6 683.4,28.9 682.2,29.4 678.7,28.0" fill="#5f9a6e" /><polygon points="673.2,24.9 676.6,26.2 675.3,26.7 672.0,25.4" fill="#7d848f" /><polygon points="674.9,29.3 684.0,32.9 682.8,33.4 673.7,29.7" fill="#c7cff5" opacity=".55"/><polygon points="692.7,31.1 692.5,31.1 692.1,31.1 691.8,31.1 691.5,31.0 691.1,30.9 690.9,30.8 690.7,30.7 690.6,30.5 690.6,30.4 690.8,30.3 691.0,30.3 691.3,30.3 691.7,30.3 692.0,30.4 692.3,30.5 692.6,30.6 692.8,30.7 692.9,30.9 692.8,31.0" fill="#07080a" /><polygon points="708.9,35.6 712.8,37.0 709.4,38.2 705.6,36.8" fill="#e4e4e4" /><polygon points="708.9,36.2 711.1,37.0 709.5,37.6 707.2,36.8" fill="#30333b" /><polygon points="712.7,37.0 716.6,38.5 713.2,39.7 709.3,38.2" fill="#e4e4e4" /><polygon points="712.6,37.6 714.9,38.5 713.2,39.1 711.0,38.2" fill="#30333b" /><polygon points="697.3,35.8 703.9,38.4 702.7,38.8 696.2,36.2" fill="#d6dcff" opacity=".65"/><polygon points="703.0,39.1 707.0,40.7 704.9,41.4 700.9,39.8" fill="#f2f4ff" opacity=".85"/><polygon points="728.8,46.4 727.2,46.6 725.0,46.5 722.3,46.1 719.4,45.4 716.7,44.4 714.4,43.4 712.7,42.3 711.8,41.4 711.7,40.5 712.5,40.0 714.0,39.7 716.2,39.8 718.8,40.2 721.6,40.9 724.3,41.8 726.7,42.8 728.5,43.9 729.5,44.9 729.6,45.8" fill="#414a86" /><polygon points="727.6,45.9 726.3,46.1 724.4,46.0 722.1,45.6 719.7,45.0 717.4,44.2 715.4,43.3 713.9,42.4 713.1,41.6 713.0,40.9 713.6,40.4 714.9,40.2 716.7,40.3 719.0,40.6 721.3,41.2 723.7,42.0 725.7,42.9 727.2,43.8 728.1,44.7 728.3,45.4" fill="#0a0b0e" /><polygon points="724.3,44.0 723.7,44.1 722.8,44.1 721.7,43.9 720.5,43.5 719.3,43.1 718.3,42.7 717.5,42.2 717.0,41.8 716.9,41.5 717.2,41.3 717.8,41.2 718.7,41.2 719.8,41.4 720.9,41.7 722.1,42.1 723.2,42.6 724.0,43.0 724.4,43.5 724.6,43.8" fill="#1f2228" /><polygon points="614.4,14.3 719.6,57.6 715.5,155.4 622.1,92.1" fill="url(#gFront)" stroke="url(#gFront)" stroke-width="6.6" stroke-linejoin="round"/><line x1="611.0" y1="9.7" x2="720.7" y2="54.9" stroke="#596171" stroke-width="1.0" opacity=".75" stroke-linecap="round"/><line x1="611.0" y1="10.3" x2="619.0" y2="91.2" stroke="#4a515f" stroke-width="1.0" opacity=".6" stroke-linecap="round"/><polygon points="713.9,53.1 722.9,56.9 718.6,158.3 710.8,153.1" fill="#343a44" opacity=".35"/><polygon points="718.7,54.6 723.9,56.8 719.5,157.9 715.0,154.9" fill="#373d47" opacity=".4"/><polygon points="623.2,23.9 700.0,61.6 696.8,132.8 626.8,90.2" fill="#141c44" stroke="#131a3e" stroke-width="1.8" stroke-linejoin="round"/><polygon points="623.2,23.9 700.0,61.6 696.8,132.8 626.8,90.2" fill="url(#gScreen)" /><polygon points="623.2,23.9 700.0,61.6 699.4,75.3 623.9,36.6" fill="#1a2356" /><polygon points="623.2,23.9 700.0,61.6 699.8,66.4 623.4,28.4" fill="#151c48" /><polygon points="625.7,27.5 625.7,28.1 625.5,28.5 625.2,28.6 624.9,28.6 624.6,28.3 624.3,27.8 624.0,27.3 623.9,26.7 624.0,26.1 624.1,25.7 624.4,25.5 624.7,25.6 625.1,25.9 625.4,26.3 625.6,26.9" fill="#6fc0ff" /><polygon points="626.3,27.1 632.9,30.4 632.9,31.8 626.4,28.6" fill="#4f86e0" opacity=".85"/><polygon points="624.3,30.4 630.6,33.6 630.9,40.2 624.7,37.0" fill="#232d66" /><polygon points="625.3,32.5 630.0,34.9 630.2,37.9 625.4,35.5" fill="#e8ecf8" opacity=".8"/><polygon points="631.6,33.4 639.3,37.2 639.6,44.6 632.0,40.7" fill="#66d7df" /><polygon points="633.1,36.2 638.0,38.7 638.1,41.8 633.2,39.3" fill="#d8f6f8" opacity=".7"/><polygon points="640.8,40.1 642.4,40.9 642.5,45.2 641.0,44.4" fill="#f0a030" /><polygon points="643.1,42.3 648.2,44.9 648.2,47.4 643.2,44.9" fill="#f2f4fa" opacity=".78"/><polygon points="643.6,39.4 656.9,46.0 656.9,47.2 643.6,40.6" fill="#aab4d4" opacity=".6"/><polygon points="650.9,45.2 652.6,46.0 652.6,50.4 651.0,49.6" fill="#3fcf55" /><polygon points="653.3,47.5 659.7,50.7 659.7,53.3 653.4,50.1" fill="#f2f4fa" opacity=".78"/><polygon points="661.4,50.5 663.1,51.3 663.1,55.8 661.5,54.9" fill="#36c848" /><polygon points="663.9,52.8 671.7,56.8 671.6,59.4 663.9,55.4" fill="#f2f4fa" opacity=".78"/><polygon points="674.7,54.9 694.6,64.9 694.5,66.2 674.7,56.3" fill="#c3cbe2" opacity=".7"/><polygon points="674.7,57.2 676.4,58.1 676.4,62.6 674.6,61.7" fill="#d02a8a" /><polygon points="677.2,59.6 683.3,62.7 683.3,65.3 677.2,62.2" fill="#f2f4fa" opacity=".78"/><polygon points="688.2,64.0 690.0,64.9 689.9,69.5 688.0,68.5" fill="#a040e0" /><polygon points="690.8,66.5 698.0,70.1 697.9,72.8 690.7,69.1" fill="#f2f4fa" opacity=".78"/><polygon points="690.7,69.9 695.0,72.1 694.9,73.6 690.6,71.4" fill="#f2f4fa" opacity=".7"/><polygon points="623.9,36.6 640.3,45.0 642.1,99.5 626.8,90.2" fill="#e8eff4" /><polygon points="624.7,37.7 629.6,40.2 629.8,44.1 624.9,41.5" fill="#2a4fd0" /><polygon points="630.7,41.6 637.2,44.9 637.3,47.1 630.8,43.7" fill="#aab3c0" opacity=".8"/><polygon points="637.9,44.4 640.0,45.6 640.2,49.5 638.0,48.3" fill="#2a4fd0" /><polygon points="626.0,43.2 630.3,45.5 631.5,47.5 631.6,49.5 630.6,50.3 626.3,48.1 625.2,46.1 625.1,44.1" fill="#62d5dc" /><polygon points="627.1,45.6 629.5,46.8 629.5,48.0 627.1,46.7" fill="#e9fbfc" opacity=".55"/><polygon points="633.6,47.2 638.3,49.7 639.5,51.7 639.6,53.7 638.5,54.6 633.9,52.1 632.7,50.1 632.6,48.1" fill="#62d5dc" /><polygon points="634.7,49.6 637.4,51.0 637.5,52.2 634.7,50.8" fill="#e9fbfc" opacity=".55"/><polygon points="626.4,49.6 630.6,51.9 631.8,53.9 631.8,55.8 630.8,56.6 626.6,54.3 625.5,52.4 625.4,50.5" fill="#62d5dc" /><polygon points="627.4,51.9 629.8,53.2 629.8,54.3 627.5,53.0" fill="#e9fbfc" opacity=".55"/><polygon points="633.9,53.6 638.6,56.1 639.7,58.1 639.8,60.1 638.7,60.9 634.1,58.4 633.0,56.4 632.9,54.5" fill="#62d5dc" /><polygon points="634.9,56.0 637.7,57.4 637.7,58.6 635.0,57.1" fill="#e9fbfc" opacity=".55"/><polygon points="626.7,55.8 630.9,58.1 632.0,60.1 632.1,62.0 631.1,62.8 626.9,60.5 625.8,58.5 625.7,56.7" fill="#62d5dc" /><polygon points="627.7,58.1 630.1,59.4 630.1,60.5 627.8,59.2" fill="#e9fbfc" opacity=".55"/><polygon points="634.2,59.9 638.8,62.4 639.9,64.5 640.0,66.3 639.0,67.2 634.4,64.6 633.3,62.6 633.2,60.7" fill="#62d5dc" /><polygon points="635.2,62.2 637.9,63.7 637.9,64.8 635.2,63.4" fill="#e9fbfc" opacity=".55"/><polygon points="627.0,62.0 631.2,64.3 632.3,66.3 632.4,68.1 631.4,68.9 627.3,66.6 626.2,64.6 626.1,62.8" fill="#62d5dc" /><polygon points="628.0,64.2 630.4,65.5 630.4,66.7 628.1,65.3" fill="#e9fbfc" opacity=".55"/><polygon points="634.4,66.1 639.0,68.6 640.1,70.7 640.2,72.5 639.2,73.3 634.6,70.7 633.5,68.8 633.4,66.9" fill="#62d5dc" /><polygon points="635.5,68.4 638.1,69.9 638.2,71.0 635.5,69.5" fill="#e9fbfc" opacity=".55"/><polygon points="627.3,68.0 631.5,70.4 632.6,72.3 632.7,74.1 631.7,74.9 627.6,72.5 626.5,70.6 626.4,68.8" fill="#62d5dc" /><polygon points="628.3,70.2 630.7,71.6 630.7,72.7 628.4,71.3" fill="#e9fbfc" opacity=".55"/><polygon points="634.7,72.2 639.2,74.8 640.4,76.8 640.4,78.6 639.4,79.3 634.9,76.7 633.8,74.8 633.7,73.0" fill="#62d5dc" /><polygon points="635.7,74.5 638.4,76.0 638.4,77.1 635.7,75.6" fill="#e9fbfc" opacity=".55"/><polygon points="627.6,74.0 631.8,76.3 632.9,78.3 632.9,80.1 632.0,80.8 627.9,78.4 626.8,76.5 626.7,74.7" fill="#62d5dc" /><polygon points="628.6,76.2 630.9,77.5 631.0,78.6 628.7,77.2" fill="#e9fbfc" opacity=".55"/><polygon points="635.0,78.2 639.5,80.8 640.6,82.8 640.6,84.6 639.6,85.3 635.1,82.7 634.0,80.7 634.0,78.9" fill="#62d5dc" /><polygon points="635.9,80.4 638.6,82.0 638.6,83.0 636.0,81.5" fill="#e9fbfc" opacity=".55"/><polygon points="627.9,79.8 632.0,82.2 633.1,84.1 633.2,85.9 632.2,86.6 628.2,84.2 627.1,82.3 627.0,80.5" fill="#b4bfc2" /><polygon points="628.9,82.0 631.2,83.4 631.3,84.4 629.0,83.0" fill="#e9fbfc" opacity=".55"/><polygon points="635.2,84.1 639.7,86.7 640.8,88.7 640.8,90.4 639.8,91.1 635.4,88.5 634.3,86.6 634.2,84.8" fill="#62d5dc" /><polygon points="636.2,86.3 638.8,87.8 638.8,88.9 636.2,87.4" fill="#e9fbfc" opacity=".55"/><polygon points="628.0,85.7 639.8,92.8 640.9,94.7 641.0,97.2 640.0,97.8 628.3,90.7 627.3,88.9 627.2,86.4" fill="#49d63f" /><line x1="640.6" y1="45.2" x2="642.4" y2="99.7" stroke="#cbd7e6" stroke-width="0.6" /><line x1="654.3" y1="52.2" x2="655.2" y2="107.5" stroke="#cbd7e6" stroke-width="0.6" /><line x1="668.7" y1="59.6" x2="668.6" y2="115.6" stroke="#cbd7e6" stroke-width="0.6" /><line x1="683.9" y1="67.4" x2="682.5" y2="124.1" stroke="#cbd7e6" stroke-width="0.6" /><line x1="640.6" y1="45.4" x2="699.4" y2="75.6" stroke="#c2d0e2" stroke-width="0.5" /><polygon points="641.4,46.6 648.9,50.5 648.9,51.8 641.4,47.9" fill="#7aa0e0" opacity=".5"/><polygon points="646.3,52.0 649.7,53.7 649.7,55.3 646.3,53.5" fill="#5a6170" opacity=".5"/><polygon points="643.9,51.1 644.7,51.5 644.8,52.6 644.0,52.1" fill="#8aa0c0" opacity=".6"/><polygon points="647.1,55.4 649.7,56.8 649.8,58.3 647.1,56.9" fill="#6a7180" opacity=".42"/><polygon points="655.1,53.7 664.9,58.7 664.9,60.0 655.1,55.0" fill="#7aa0e0" opacity=".5"/><polygon points="660.2,59.2 663.8,61.0 663.8,62.6 660.2,60.8" fill="#5a6170" opacity=".5"/><polygon points="657.7,58.3 658.6,58.7 658.6,59.8 657.8,59.4" fill="#8aa0c0" opacity=".6"/><polygon points="669.5,61.1 681.8,67.5 681.8,68.8 669.5,62.4" fill="#7aa0e0" opacity=".5"/><polygon points="674.8,66.8 678.5,68.7 678.5,70.4 674.8,68.4" fill="#5a6170" opacity=".5"/><polygon points="672.2,65.8 673.1,66.3 673.1,67.4 672.2,66.9" fill="#8aa0c0" opacity=".6"/><polygon points="675.6,70.4 678.5,72.0 678.5,73.4 675.5,71.9" fill="#6a7180" opacity=".42"/><polygon points="684.7,68.9 693.4,73.4 693.3,74.8 684.6,70.3" fill="#7aa0e0" opacity=".5"/><polygon points="690.2,74.8 694.1,76.8 694.0,78.5 690.1,76.4" fill="#5a6170" opacity=".5"/><polygon points="687.5,73.8 688.4,74.2 688.3,75.3 687.4,74.9" fill="#8aa0c0" opacity=".6"/><line x1="641.0" y1="55.0" x2="698.9" y2="85.8" stroke="#c2d0e2" stroke-width="0.5" /><polygon points="641.7,56.2 650.9,61.1 650.9,62.4 641.7,57.5" fill="#7aa0e0" opacity=".5"/><polygon points="646.5,61.6 649.9,63.4 649.9,64.9 646.6,63.1" fill="#5a6170" opacity=".5"/><polygon points="644.2,60.7 645.0,61.1 645.0,62.1 644.3,61.7" fill="#8aa0c0" opacity=".6"/><polygon points="655.2,63.5 666.8,69.6 666.8,70.9 655.3,64.7" fill="#7aa0e0" opacity=".5"/><polygon points="657.8,68.0 658.7,68.4 658.7,69.5 657.9,69.0" fill="#8aa0c0" opacity=".6"/><polygon points="661.0,72.4 663.8,73.9 663.8,75.3 661.1,73.8" fill="#6a7180" opacity=".42"/><polygon points="669.5,71.0 677.6,75.4 677.6,76.7 669.5,72.3" fill="#7aa0e0" opacity=".5"/><polygon points="674.7,76.7 678.4,78.7 678.4,80.2 674.7,78.3" fill="#5a6170" opacity=".5"/><polygon points="672.1,75.7 673.0,76.1 673.0,77.2 672.1,76.8" fill="#8aa0c0" opacity=".6"/><polygon points="684.4,79.0 695.1,84.7 695.0,86.0 684.4,80.3" fill="#7aa0e0" opacity=".5"/><polygon points="689.9,84.8 693.7,86.9 693.7,88.5 689.8,86.4" fill="#5a6170" opacity=".5"/><polygon points="687.2,83.8 688.1,84.2 688.0,85.3 687.1,84.8" fill="#8aa0c0" opacity=".6"/><polygon points="690.6,88.5 693.6,90.1 693.6,91.5 690.5,89.9" fill="#6a7180" opacity=".42"/><line x1="641.3" y1="64.5" x2="698.5" y2="95.8" stroke="#c2d0e2" stroke-width="0.5" /><polygon points="642.0,65.7 652.9,71.6 652.9,72.9 642.0,66.9" fill="#7aa0e0" opacity=".5"/><polygon points="646.8,71.0 650.1,72.8 650.1,74.3 646.8,72.4" fill="#5a6170" opacity=".5"/><polygon points="644.5,70.0 645.3,70.4 645.3,71.5 644.5,71.0" fill="#8aa0c0" opacity=".6"/><polygon points="647.6,74.3 650.1,75.8 650.2,77.1 647.6,75.6" fill="#6a7180" opacity=".42"/><polygon points="655.4,73.0 663.1,77.2 663.1,78.5 655.4,74.2" fill="#7aa0e0" opacity=".5"/><polygon points="660.4,78.5 663.8,80.4 663.8,81.9 660.4,80.0" fill="#5a6170" opacity=".5"/><polygon points="658.0,77.5 658.8,77.9 658.8,78.9 658.0,78.5" fill="#8aa0c0" opacity=".6"/><polygon points="669.4,80.7 679.4,86.2 679.4,87.5 669.4,82.0" fill="#7aa0e0" opacity=".5"/><polygon points="674.6,86.3 678.2,88.4 678.2,89.9 674.6,87.9" fill="#5a6170" opacity=".5"/><polygon points="672.1,85.3 672.9,85.8 672.9,86.8 672.1,86.3" fill="#8aa0c0" opacity=".6"/><polygon points="675.3,89.8 678.2,91.4 678.1,92.8 675.3,91.2" fill="#6a7180" opacity=".42"/><polygon points="684.2,88.8 696.8,95.7 696.7,97.0 684.1,90.1" fill="#7aa0e0" opacity=".5"/><polygon points="686.9,93.5 687.8,94.0 687.7,95.0 686.9,94.6" fill="#8aa0c0" opacity=".6"/><line x1="641.6" y1="73.6" x2="698.0" y2="105.4" stroke="#c2d0e2" stroke-width="0.5" /><polygon points="642.3,74.8 649.5,78.9 649.5,80.1 642.3,76.0" fill="#7aa0e0" opacity=".5"/><polygon points="644.8,79.1 645.5,79.6 645.5,80.6 644.8,80.1" fill="#8aa0c0" opacity=".6"/><polygon points="655.5,82.3 664.9,87.6 664.9,88.8 655.5,83.5" fill="#7aa0e0" opacity=".5"/><polygon points="660.4,87.7 663.8,89.7 663.8,91.2 660.4,89.2" fill="#5a6170" opacity=".5"/><polygon points="658.1,86.7 658.8,87.2 658.9,88.2 658.1,87.7" fill="#8aa0c0" opacity=".6"/><polygon points="661.2,91.1 663.9,92.6 663.9,93.9 661.2,92.4" fill="#6a7180" opacity=".42"/><polygon points="669.4,90.1 681.2,96.8 681.2,98.0 669.4,91.3" fill="#7aa0e0" opacity=".5"/><polygon points="674.5,95.7 678.1,97.8 678.0,99.3 674.5,97.2" fill="#5a6170" opacity=".5"/><polygon points="672.0,94.7 672.8,95.1 672.8,96.1 672.0,95.7" fill="#8aa0c0" opacity=".6"/><polygon points="683.9,98.3 692.3,103.1 692.2,104.3 683.9,99.6" fill="#7aa0e0" opacity=".5"/><polygon points="689.2,104.1 693.0,106.3 692.9,107.8 689.2,105.6" fill="#5a6170" opacity=".5"/><polygon points="686.6,103.0 687.5,103.5 687.4,104.5 686.6,104.0" fill="#8aa0c0" opacity=".6"/><polygon points="689.9,107.6 692.9,109.3 692.8,110.7 689.9,109.0" fill="#6a7180" opacity=".42"/><line x1="641.9" y1="82.6" x2="697.6" y2="114.9" stroke="#c2d0e2" stroke-width="0.5" /><polygon points="642.6,83.8 651.5,88.9 651.5,90.1 642.6,84.9" fill="#7aa0e0" opacity=".5"/><polygon points="647.3,89.0 650.5,90.9 650.5,92.3 647.3,90.4" fill="#5a6170" opacity=".5"/><polygon points="645.0,88.0 645.8,88.5 645.8,89.4 645.0,89.0" fill="#8aa0c0" opacity=".6"/><polygon points="648.0,92.3 650.5,93.7 650.6,95.0 648.0,93.5" fill="#6a7180" opacity=".42"/><polygon points="655.6,91.4 666.8,97.8 666.8,99.0 655.7,92.5" fill="#7aa0e0" opacity=".5"/><polygon points="660.5,96.8 663.9,98.8 663.9,100.2 660.5,98.2" fill="#5a6170" opacity=".5"/><polygon points="658.2,95.7 658.9,96.2 658.9,97.2 658.2,96.7" fill="#8aa0c0" opacity=".6"/><polygon points="669.3,99.3 677.2,103.9 677.2,105.1 669.3,100.5" fill="#7aa0e0" opacity=".5"/><polygon points="671.9,103.8 672.7,104.3 672.7,105.3 671.9,104.8" fill="#8aa0c0" opacity=".6"/><polygon points="675.1,108.2 677.9,109.9 677.8,111.2 675.1,109.5" fill="#6a7180" opacity=".42"/><polygon points="683.7,107.6 693.9,113.6 693.9,114.8 683.7,108.8" fill="#7aa0e0" opacity=".5"/><polygon points="688.9,113.4 692.6,115.6 692.6,117.0 688.9,114.9" fill="#5a6170" opacity=".5"/><polygon points="686.3,112.2 687.2,112.7 687.2,113.7 686.3,113.2" fill="#8aa0c0" opacity=".6"/><line x1="642.2" y1="91.4" x2="697.2" y2="124.1" stroke="#c2d0e2" stroke-width="0.5" /><polygon points="642.9,92.5 653.4,98.8 653.4,99.9 642.9,93.6" fill="#7aa0e0" opacity=".5"/><polygon points="647.5,97.7 650.7,99.7 650.7,101.0 647.5,99.1" fill="#5a6170" opacity=".5"/><polygon points="645.3,96.7 646.0,97.2 646.0,98.1 645.3,97.7" fill="#8aa0c0" opacity=".6"/><polygon points="655.8,100.2 663.2,104.6 663.2,105.8 655.8,101.4" fill="#7aa0e0" opacity=".5"/><polygon points="660.6,105.6 663.9,107.6 663.9,109.0 660.6,107.0" fill="#5a6170" opacity=".5"/><polygon points="658.3,104.5 659.0,105.0 659.0,105.9 658.3,105.5" fill="#8aa0c0" opacity=".6"/><polygon points="661.3,108.8 663.9,110.4 663.9,111.7 661.3,110.1" fill="#6a7180" opacity=".42"/><polygon points="669.3,108.3 678.9,114.0 678.9,115.2 669.3,109.4" fill="#7aa0e0" opacity=".5"/><polygon points="674.3,113.8 677.8,115.9 677.7,117.3 674.3,115.2" fill="#5a6170" opacity=".5"/><polygon points="671.8,112.7 672.7,113.2 672.6,114.1 671.8,113.6" fill="#8aa0c0" opacity=".6"/><polygon points="683.5,116.7 695.6,123.9 695.5,125.1 683.5,117.9" fill="#7aa0e0" opacity=".5"/><polygon points="688.6,122.4 692.3,124.6 692.2,126.1 688.6,123.9" fill="#5a6170" opacity=".5"/><polygon points="686.1,121.2 686.9,121.7 686.9,122.7 686.1,122.2" fill="#8aa0c0" opacity=".6"/><polygon points="689.3,125.8 692.2,127.5 692.1,128.8 689.3,127.0" fill="#6a7180" opacity=".42"/><polygon points="717.1,55.7 726.1,58.2 729.1,61.0 728.5,63.7 725.8,64.1 717.8,61.4 715.9,58.4" fill="#2b2f37" stroke="#0f1115" stroke-width="1.2" stroke-linejoin="round"/><line x1="717.6" y1="55.6" x2="726.1" y2="58.2" stroke="#555c69" stroke-width="0.7" opacity=".8"/></g>
<g><polygon points="728.7,282.4 754.5,274.8 749.6,346.0 747.6,359.0 741.0,366.5 724.5,378.4" fill="url(#gSide)" stroke="#20232a" stroke-width="1.3" stroke-linejoin="round"/><polygon points="728.1,282.6 731.6,281.6 726.2,375.2 722.8,377.6" fill="#363c46" opacity=".38"/><polygon points="731.3,281.6 734.4,280.7 728.8,374.2 725.8,376.3" fill="#2f343d" opacity=".35"/><polyline points="743.4,278.1 743.9,314.6" fill="none" stroke="#14161b" stroke-width=".9"/><polygon points="732.5,319.9 747.8,313.6 747.3,344.8 733.6,351.4" fill="url(#gWin)" stroke="#0d0f17" stroke-width=".7" stroke-linejoin="round"/><polygon points="750.2,299.9 751.3,299.5 751.1,303.4 750.1,303.8" fill="#08090c" /><polygon points="731.6,305.1 733.0,304.3 732.8,309.4 731.4,310.1" fill="#0b0c10" /><polygon points="727.1,354.0 733.6,351.4 733.8,362.6 727.7,365.2" fill="#23262d" stroke="#3b404a" stroke-width=".5" stroke-linejoin="round"/><polygon points="733.5,350.6 747.3,344.3 748.4,344.9 748.7,346.8 747.7,356.4 734.1,362.9" fill="#101114" stroke="#2a2d34" stroke-width=".6" stroke-linejoin="round"/><polygon points="736.8,354.9 736.7,355.3 736.5,355.7 736.2,356.1 735.9,356.3 735.6,356.4 735.4,356.4 735.2,356.2 735.2,355.9 735.3,355.5 735.5,355.1 735.7,354.7 736.0,354.4 736.4,354.3 736.6,354.3 736.7,354.5" fill="#e6e6e6" /><polygon points="743.2,352.2 743.1,352.7 742.8,353.3 742.5,353.8 742.0,354.1 741.6,354.3 741.3,354.3 741.1,354.0 741.1,353.6 741.2,353.0 741.4,352.5 741.8,352.0 742.2,351.6 742.6,351.4 742.9,351.5 743.2,351.8" fill="#f3f3f3" /><polygon points="737.3,363.0 739.5,361.1 742.0,360.9 742.3,368.6 737.8,371.1" fill="#1d2026" stroke="#3b404a" stroke-width=".6" stroke-linejoin="round"/><polygon points="622.3,242.6 621.9,239.0 631.2,234.9 645.6,234.0 754.5,274.8 728.7,282.4 728.1,286.0" fill="url(#gTop)" stroke="#383e4a" stroke-width="1.3" stroke-linejoin="round"/><polygon points="645.5,234.0 754.5,274.8 749.4,276.3 644.0,236.1" fill="#1d2027" opacity=".75"/><polygon points="747.1,272.0 754.5,274.8 728.7,282.4 721.9,279.6" fill="#2a2f39" opacity=".7"/><polygon points="638.4,236.6 646.3,237.0 739.4,272.5 725.6,276.7 632.0,239.4" fill="url(#gPanel)" /><line x1="622.5" y1="238.7" x2="729.6" y2="282.1" stroke="#5a6272" stroke-width="0.9" opacity=".8" stroke-linecap="round"/><line x1="752.5" y1="274.6" x2="728.4" y2="281.7" stroke="#4a515e" stroke-width="1.6" opacity=".75" stroke-linecap="round"/><polygon points="634.6,237.9 637.4,239.0 636.1,239.5 633.3,238.4" fill="#eef1ff" opacity=".95"/><polygon points="638.5,237.8 641.8,239.0 641.0,239.4 637.7,238.1" fill="#9fb0f0" opacity=".55"/><polygon points="645.8,238.5 645.5,238.5 645.2,238.6 644.7,238.5 644.3,238.4 643.9,238.3 643.6,238.2 643.3,238.0 643.2,237.8 643.3,237.7 643.4,237.5 643.7,237.5 644.1,237.4 644.5,237.5 645.0,237.6 645.4,237.7 645.7,237.8 645.9,238.0 646.0,238.2 646.0,238.3" fill="#5468ff" /><polygon points="641.4,239.1 641.2,239.2 640.8,239.2 640.4,239.2 639.9,239.1 639.5,238.9 639.2,238.8 639.0,238.6 638.9,238.4 638.9,238.3 639.1,238.2 639.4,238.1 639.7,238.1 640.2,238.1 640.6,238.2 641.0,238.3 641.3,238.5 641.6,238.6 641.7,238.8 641.6,239.0" fill="#5468ff" /><polygon points="649.7,239.3 651.8,240.1 647.4,241.9 645.4,241.1" fill="#b9a778" /><polygon points="649.9,239.4 651.6,240.0 649.5,240.9 647.8,240.2" fill="#f3eedd" /><polygon points="647.2,240.7 648.4,241.1 647.0,241.7 645.8,241.2" fill="#4a4230" /><polygon points="641.8,242.0 643.0,242.5 642.2,242.8 641.0,242.3" fill="#b7c0f2" opacity=".55"/><polygon points="654.1,240.9 656.2,241.7 651.8,243.5 649.7,242.7" fill="#b9a778" /><polygon points="654.2,241.0 656.0,241.7 653.9,242.6 652.1,241.9" fill="#f3eedd" /><polygon points="651.5,242.3 652.8,242.8 651.4,243.4 650.1,242.9" fill="#4a4230" /><polygon points="646.0,243.6 647.2,244.1 646.5,244.5 645.2,244.0" fill="#b7c0f2" opacity=".55"/><polygon points="658.5,242.6 660.6,243.4 656.1,245.2 654.0,244.4" fill="#b9a778" /><polygon points="658.6,242.7 660.4,243.4 658.3,244.2 656.5,243.5" fill="#f3eedd" /><polygon points="655.9,244.0 657.1,244.5 655.7,245.0 654.5,244.6" fill="#4a4230" /><polygon points="650.3,245.3 651.5,245.8 650.7,246.1 649.5,245.6" fill="#b7c0f2" opacity=".55"/><polygon points="662.9,244.3 665.1,245.1 660.5,246.9 658.4,246.1" fill="#b9a778" /><polygon points="663.0,244.3 664.9,245.0 662.7,245.9 660.8,245.2" fill="#f3eedd" /><polygon points="660.2,245.7 661.5,246.2 660.1,246.7 658.8,246.2" fill="#4a4230" /><polygon points="654.5,247.0 655.8,247.5 655.0,247.8 653.7,247.3" fill="#b7c0f2" opacity=".55"/><polygon points="667.3,245.9 669.5,246.8 664.8,248.6 662.7,247.7" fill="#b9a778" /><polygon points="667.4,246.0 669.3,246.7 667.0,247.6 665.2,246.9" fill="#f3eedd" /><polygon points="664.6,247.3 665.9,247.8 664.4,248.4 663.1,247.9" fill="#4a4230" /><polygon points="658.8,248.6 660.1,249.1 659.2,249.5 657.9,248.9" fill="#b7c0f2" opacity=".55"/><polygon points="671.7,247.6 673.9,248.4 669.2,250.2 667.0,249.4" fill="#b9a778" /><polygon points="671.8,247.7 673.7,248.4 671.4,249.2 669.6,248.5" fill="#f3eedd" /><polygon points="668.9,249.0 670.2,249.5 668.8,250.1 667.4,249.5" fill="#4a4230" /><polygon points="663.0,250.3 664.3,250.8 663.5,251.1 662.2,250.6" fill="#b7c0f2" opacity=".55"/><polygon points="676.0,249.2 678.3,250.1 673.6,251.9 671.3,251.0" fill="#b9a778" /><polygon points="676.2,249.3 678.1,250.0 675.8,250.9 673.9,250.2" fill="#f3eedd" /><polygon points="673.2,250.6 674.6,251.2 673.1,251.7 671.8,251.2" fill="#4a4230" /><polygon points="667.3,251.9 668.6,252.5 667.7,252.8 666.4,252.3" fill="#b7c0f2" opacity=".55"/><polygon points="680.4,250.9 682.8,251.8 677.9,253.6 675.6,252.7" fill="#b9a778" /><polygon points="680.6,251.0 682.6,251.7 680.2,252.6 678.3,251.8" fill="#f3eedd" /><polygon points="677.6,252.3 679.0,252.8 677.5,253.4 676.1,252.9" fill="#4a4230" /><polygon points="671.5,253.6 672.9,254.1 672.0,254.5 670.6,253.9" fill="#b7c0f2" opacity=".55"/><polygon points="684.8,252.6 687.2,253.5 682.3,255.3 679.9,254.4" fill="#b9a778" /><polygon points="685.0,252.6 687.0,253.4 684.6,254.3 682.6,253.5" fill="#f3eedd" /><polygon points="681.9,254.0 683.3,254.5 681.8,255.1 680.4,254.5" fill="#4a4230" /><polygon points="675.8,255.2 677.1,255.8 676.2,256.1 674.9,255.6" fill="#b7c0f2" opacity=".55"/><polygon points="689.2,254.2 691.6,255.1 686.6,256.9 684.2,256.0" fill="#b9a778" /><polygon points="689.4,254.3 691.4,255.1 689.0,255.9 687.0,255.2" fill="#f3eedd" /><polygon points="686.3,255.6 687.7,256.2 686.1,256.8 684.7,256.2" fill="#4a4230" /><polygon points="680.0,256.9 681.4,257.5 680.5,257.8 679.1,257.2" fill="#b7c0f2" opacity=".55"/><polygon points="693.6,255.9 696.1,256.8 691.0,258.6 688.5,257.7" fill="#b9a778" /><polygon points="693.8,255.9 695.9,256.7 693.4,257.6 691.3,256.8" fill="#f3eedd" /><polygon points="690.6,257.3 692.1,257.9 690.5,258.4 689.0,257.9" fill="#4a4230" /><polygon points="684.2,258.6 685.7,259.1 684.8,259.4 683.3,258.9" fill="#b7c0f2" opacity=".55"/><polygon points="698.0,257.5 700.5,258.5 695.3,260.3 692.9,259.3" fill="#b9a778" /><polygon points="698.2,257.6 700.3,258.4 697.8,259.3 695.7,258.5" fill="#f3eedd" /><polygon points="695.0,259.0 696.5,259.5 694.8,260.1 693.4,259.5" fill="#4a4230" /><polygon points="688.5,260.2 689.9,260.8 689.0,261.1 687.6,260.5" fill="#b7c0f2" opacity=".55"/><polygon points="702.4,259.2 704.9,260.2 699.7,262.0 697.2,261.0" fill="#b9a778" /><polygon points="702.6,259.3 704.7,260.1 702.2,261.0 700.0,260.1" fill="#f3eedd" /><polygon points="699.3,260.6 700.8,261.2 699.2,261.8 697.7,261.2" fill="#4a4230" /><polygon points="692.7,261.9 694.2,262.4 693.3,262.8 691.8,262.2" fill="#b7c0f2" opacity=".55"/><polygon points="711.1,262.1 715.9,264.0 711.0,265.6 706.2,263.8" fill="#bfae7c" /><polygon points="711.3,262.0 715.5,263.6 713.3,264.4 709.1,262.8" fill="#f6f1e0" /><polygon points="709.4,263.5 712.0,264.5 710.3,265.0 707.8,264.1" fill="#3a3322" /><polygon points="717.4,264.6 722.3,266.5 717.4,268.1 712.4,266.2" fill="#bfae7c" /><polygon points="717.6,264.4 722.0,266.1 719.7,266.8 715.4,265.2" fill="#f6f1e0" /><polygon points="715.7,265.9 718.3,266.9 716.6,267.5 714.1,266.5" fill="#3a3322" /><polygon points="702.1,263.4 702.0,263.4 701.7,263.4 701.5,263.4 701.3,263.3 701.1,263.3 700.9,263.2 700.8,263.1 700.8,263.0 700.8,262.9 700.9,262.9 701.1,262.9 701.3,262.8 701.5,262.9 701.7,262.9 702.0,263.0 702.1,263.1 702.2,263.1 702.3,263.2 702.2,263.3" fill="#e8ecff" /><polygon points="707.1,266.7 711.5,268.5 709.4,269.1 705.1,267.4" fill="#f2f4ff" opacity=".8"/><polygon points="734.5,273.7 732.9,273.9 730.8,273.8 728.2,273.4 725.5,272.7 723.0,271.9 720.8,270.9 719.3,269.9 718.4,269.0 718.4,268.3 719.1,267.8 720.6,267.6 722.7,267.6 725.2,268.0 727.9,268.7 730.5,269.5 732.7,270.5 734.3,271.5 735.2,272.4 735.3,273.2" fill="#414a86" /><polygon points="733.4,273.3 732.0,273.4 730.2,273.3 728.1,273.0 725.8,272.4 723.6,271.7 721.8,270.8 720.4,270.0 719.7,269.2 719.6,268.6 720.2,268.2 721.5,268.0 723.2,268.1 725.3,268.4 727.6,269.0 729.8,269.7 731.7,270.6 733.1,271.4 733.9,272.2 734.0,272.8" fill="#0a0b0e" /><polygon points="730.3,271.6 729.7,271.6 728.8,271.6 727.8,271.4 726.6,271.1 725.5,270.7 724.6,270.3 723.8,269.9 723.4,269.5 723.3,269.2 723.6,269.0 724.2,268.9 725.0,269.0 726.1,269.2 727.2,269.5 728.3,269.8 729.3,270.2 730.0,270.7 730.5,271.1 730.5,271.4" fill="#1f2228" /><polygon points="625.5,244.0 725.3,284.6 720.2,374.4 630.2,312.7" fill="url(#gFront)" stroke="url(#gFront)" stroke-width="6.6" stroke-linejoin="round"/><line x1="622.3" y1="239.5" x2="726.4" y2="281.9" stroke="#596171" stroke-width="1.0" opacity=".75" stroke-linecap="round"/><line x1="622.3" y1="239.9" x2="627.1" y2="311.9" stroke="#4a515f" stroke-width="1.0" opacity=".6" stroke-linecap="round"/><polygon points="719.8,280.1 728.6,283.7 723.4,377.4 715.6,372.1" fill="#343a44" opacity=".35"/><polygon points="724.5,281.6 729.6,283.7 724.2,377.0 719.8,374.0" fill="#373d47" opacity=".4"/><polygon points="619.9,293.2 625.9,293.7 628.8,295.8 629.0,304.6 626.4,306.2 620.2,306.2" fill="#fff" /><polygon points="630.5,250.9 630.5,251.5 630.4,251.9 630.2,252.1 629.9,252.1 629.6,251.9 629.4,251.4 629.2,250.9 629.1,250.3 629.1,249.7 629.2,249.3 629.4,249.1 629.7,249.1 630.0,249.3 630.2,249.8 630.4,250.3" fill="#111318" /><polygon points="630.5,252.5 630.4,252.7 630.4,252.9 630.2,253.0 630.1,253.0 629.9,252.9 629.8,252.7 629.7,252.4 629.7,252.1 629.7,251.9 629.8,251.7 629.9,251.6 630.0,251.7 630.2,251.8 630.3,252.0 630.4,252.2" fill="#8c96a6" /><polygon points="714.0,287.0 713.9,287.7 713.6,288.2 713.2,288.4 712.7,288.4 712.2,288.0 711.8,287.4 711.6,286.7 711.5,286.0 711.6,285.3 711.9,284.8 712.3,284.6 712.8,284.6 713.3,285.0 713.7,285.5 713.9,286.3" fill="#111318" /><polygon points="713.6,289.0 713.6,289.3 713.4,289.5 713.2,289.6 712.9,289.5 712.7,289.4 712.4,289.1 712.3,288.7 712.3,288.4 712.3,288.1 712.5,287.9 712.7,287.8 713.0,287.9 713.2,288.0 713.5,288.3 713.6,288.7" fill="#8c96a6" /><polygon points="640.0,320.0 639.9,320.5 639.8,320.8 639.6,320.9 639.3,320.8 639.0,320.6 638.8,320.1 638.6,319.6 638.6,319.1 638.6,318.6 638.7,318.3 638.9,318.2 639.2,318.2 639.5,318.5 639.7,319.0 639.9,319.5" fill="#111318" /><polygon points="639.9,321.4 639.9,321.6 639.8,321.7 639.7,321.7 639.5,321.7 639.4,321.5 639.2,321.3 639.1,321.1 639.1,320.8 639.1,320.6 639.2,320.5 639.3,320.5 639.5,320.5 639.6,320.7 639.7,320.9 639.8,321.1" fill="#8c96a6" /><polygon points="702.9,362.9 702.8,363.4 702.5,363.7 702.2,363.8 701.8,363.7 701.4,363.3 701.0,362.7 700.8,362.1 700.8,361.4 700.9,360.9 701.1,360.6 701.4,360.5 701.9,360.6 702.3,361.0 702.6,361.6 702.8,362.2" fill="#111318" /><polygon points="702.6,364.4 702.5,364.6 702.4,364.7 702.2,364.8 702.0,364.7 701.8,364.4 701.6,364.2 701.5,363.9 701.4,363.6 701.5,363.4 701.6,363.2 701.8,363.2 702.0,363.3 702.2,363.5 702.4,363.8 702.5,364.1" fill="#8c96a6" /><polygon points="635.8,269.5 635.7,270.6 635.3,271.3 634.6,271.6 633.8,271.4 633.0,270.7 632.2,269.8 631.7,268.6 631.5,267.4 631.6,266.3 632.0,265.6 632.7,265.2 633.5,265.4 634.3,266.1 635.0,267.1 635.6,268.3" fill="#0e1014" /><polygon points="634.7,268.6 634.7,269.4 634.4,270.0 633.9,270.2 633.3,270.1 632.6,269.6 632.1,268.9 631.7,267.9 631.5,267.0 631.6,266.2 631.9,265.6 632.4,265.3 633.0,265.4 633.6,265.9 634.2,266.7 634.6,267.6" fill="#3a414b" /><polygon points="635.1,269.0 635.0,269.7 634.7,270.3 634.2,270.5 633.7,270.4 633.1,269.9 632.6,269.2 632.2,268.3 632.0,267.5 632.1,266.7 632.4,266.1 632.8,265.9 633.4,266.0 634.0,266.5 634.5,267.2 634.9,268.1" fill="#14171c" /><polygon points="709.6,306.5 709.3,307.8 708.5,308.5 707.3,308.8 706.0,308.4 704.7,307.4 703.6,306.1 702.9,304.5 702.7,303.0 703.0,301.8 703.7,301.0 704.9,300.7 706.2,301.1 707.5,302.0 708.6,303.4 709.4,305.0" fill="#0e1014" /><polygon points="707.9,305.2 707.7,306.1 707.1,306.8 706.2,307.0 705.3,306.7 704.3,306.0 703.5,305.0 703.0,303.8 702.8,302.6 703.0,301.6 703.6,301.0 704.4,300.8 705.4,301.0 706.4,301.7 707.2,302.8 707.8,304.0" fill="#3a414b" /><polygon points="708.4,305.7 708.2,306.6 707.6,307.2 706.8,307.4 705.9,307.1 705.0,306.5 704.2,305.5 703.7,304.4 703.6,303.3 703.8,302.4 704.3,301.8 705.1,301.6 706.0,301.8 707.0,302.5 707.8,303.5 708.3,304.6" fill="#14171c" /><polygon points="647.0,327.6 652.0,330.2 652.0,332.0 647.0,329.6" fill="#0d0e11" /><polygon points="640.6,311.6 689.6,337.0 690.0,347.8 689.0,350.2 685.6,353.8 641.6,324.8" fill="#14161a" stroke="#2a2e36" stroke-width=".8" stroke-linejoin="round"/><polygon points="642.9,314.2 682.4,335.8 681.6,349.6 643.5,322.4" fill="#f0c29e" /><polygon points="642.9,314.2 643.5,314.6 644.1,322.9 643.5,322.4" fill="#1a1b1f" /><polygon points="643.5,314.6 682.4,335.8 682.3,337.5 643.6,315.6" fill="#c89c78" opacity=".8"/><polygon points="645.8,318.4 645.8,318.6 645.7,318.8 645.6,318.9 645.4,318.8 645.2,318.6 645.0,318.4 644.9,318.1 644.8,317.7 644.8,317.5 644.9,317.3 645.1,317.2 645.3,317.3 645.5,317.4 645.6,317.7 645.8,318.0" fill="#9a8774" /><polygon points="646.5,321.9 646.5,322.2 646.4,322.4 646.2,322.4 646.0,322.4 645.8,322.2 645.7,321.9 645.5,321.6 645.5,321.3 645.5,321.0 645.6,320.8 645.8,320.8 645.9,320.8 646.2,321.0 646.3,321.3 646.5,321.6" fill="#9a8774" /><polygon points="648.8,320.1 648.8,320.4 648.7,320.6 648.5,320.7 648.3,320.6 648.1,320.4 647.9,320.1 647.7,319.8 647.7,319.4 647.7,319.2 647.8,319.0 648.0,318.9 648.2,319.0 648.4,319.2 648.6,319.4 648.8,319.8" fill="#9a8774" /><polygon points="649.5,323.9 649.5,324.2 649.4,324.4 649.2,324.5 649.0,324.4 648.8,324.2 648.6,323.9 648.4,323.5 648.4,323.2 648.4,322.9 648.5,322.7 648.7,322.7 648.9,322.7 649.1,323.0 649.3,323.3 649.5,323.6" fill="#9a8774" /><polygon points="652.2,322.2 652.1,322.5 652.0,322.7 651.8,322.7 651.6,322.6 651.3,322.4 651.1,322.1 650.9,321.7 650.9,321.4 650.9,321.1 651.0,320.9 651.2,320.8 651.5,320.9 651.7,321.1 652.0,321.4 652.1,321.8" fill="#9a8774" /><polygon points="653.0,326.2 652.9,326.5 652.8,326.7 652.6,326.7 652.3,326.6 652.1,326.4 651.8,326.1 651.7,325.7 651.6,325.3 651.7,325.0 651.8,324.9 652.0,324.8 652.2,324.9 652.5,325.1 652.7,325.5 652.9,325.8" fill="#9a8774" /><polygon points="656.0,324.4 656.0,324.8 655.8,325.0 655.6,325.0 655.3,324.9 655.0,324.7 654.8,324.3 654.6,323.9 654.5,323.6 654.6,323.2 654.7,323.0 654.9,323.0 655.2,323.1 655.5,323.3 655.8,323.7 655.9,324.1" fill="#9a8774" /><polygon points="656.8,328.8 656.8,329.1 656.6,329.3 656.4,329.3 656.1,329.2 655.8,328.9 655.6,328.5 655.4,328.2 655.3,327.8 655.4,327.5 655.5,327.3 655.8,327.2 656.0,327.4 656.3,327.6 656.6,328.0 656.8,328.4" fill="#9a8774" /><polygon points="660.4,327.1 660.3,327.4 660.2,327.6 659.9,327.7 659.6,327.5 659.2,327.3 659.0,326.9 658.8,326.5 658.7,326.0 658.7,325.7 658.9,325.5 659.2,325.5 659.5,325.6 659.9,325.8 660.1,326.2 660.3,326.7" fill="#9a8774" /><polygon points="661.3,331.7 661.2,332.0 661.0,332.2 660.7,332.2 660.4,332.1 660.1,331.8 659.8,331.4 659.6,331.0 659.5,330.6 659.6,330.2 659.8,330.1 660.1,330.0 660.4,330.2 660.7,330.5 661.0,330.9 661.2,331.3" fill="#9a8774" /><polygon points="665.5,330.1 665.4,330.5 665.2,330.7 664.9,330.7 664.5,330.6 664.1,330.2 663.8,329.8 663.6,329.4 663.5,328.9 663.6,328.6 663.8,328.4 664.1,328.3 664.5,328.5 664.9,328.8 665.2,329.2 665.4,329.7" fill="#9a8774" /><polygon points="666.4,335.1 666.4,335.5 666.1,335.7 665.8,335.7 665.4,335.5 665.0,335.1 664.7,334.7 664.5,334.2 664.4,333.8 664.5,333.5 664.7,333.3 665.0,333.3 665.4,333.4 665.8,333.8 666.1,334.2 666.4,334.7" fill="#9a8774" /><polygon points="671.5,333.7 671.4,334.1 671.1,334.3 670.7,334.3 670.3,334.1 669.8,333.7 669.5,333.3 669.2,332.8 669.1,332.3 669.2,331.9 669.5,331.7 669.9,331.7 670.3,331.9 670.8,332.2 671.1,332.7 671.4,333.2" fill="#9a8774" /><polygon points="672.5,339.1 672.4,339.5 672.1,339.7 671.7,339.6 671.2,339.4 670.8,339.0 670.4,338.5 670.2,338.0 670.1,337.6 670.2,337.2 670.5,337.0 670.8,337.0 671.3,337.2 671.7,337.6 672.1,338.1 672.4,338.6" fill="#9a8774" /><polygon points="678.6,337.9 678.4,338.3 678.1,338.5 677.6,338.5 677.1,338.3 676.6,337.9 676.1,337.3 675.9,336.8 675.8,336.3 675.9,335.9 676.2,335.7 676.7,335.7 677.2,335.9 677.7,336.3 678.2,336.8 678.5,337.4" fill="#9a8774" /><polygon points="679.7,343.9 679.5,344.3 679.2,344.4 678.7,344.4 678.2,344.1 677.6,343.6 677.2,343.1 676.9,342.5 676.8,342.0 676.9,341.6 677.3,341.4 677.7,341.5 678.3,341.7 678.8,342.2 679.3,342.8 679.6,343.3" fill="#9a8774" /></g>
<g><polygon points="960.3,145.8 991.8,137.3 983.4,238.0 981.3,255.0 973.8,261.3 951.3,268.6" fill="url(#gSide)" stroke="#20232a" stroke-width="1.3" stroke-linejoin="round"/><polygon points="959.6,146.0 963.5,144.9 953.6,265.0 949.7,266.5" fill="#363c46" opacity=".38"/><polygon points="963.2,145.0 966.8,144.1 956.7,265.0 953.2,266.4" fill="#2f343d" opacity=".35"/><polyline points="977.6,141.1 977.2,188.9" fill="none" stroke="#14161b" stroke-width=".9"/><polygon points="963.2,193.3 982.3,188.5 980.8,231.9 963.3,235.6" fill="url(#gWin)" stroke="#0d0f17" stroke-width=".7" stroke-linejoin="round"/><polygon points="985.7,170.3 987.2,169.9 986.8,175.2 985.4,175.6" fill="#08090c" /><polygon points="962.7,174.1 964.3,173.4 964.0,179.8 962.3,180.5" fill="#0b0c10" /><polygon points="955.6,236.6 963.3,235.6 963.1,251.2 955.8,252.0" fill="#23262d" stroke="#3b404a" stroke-width=".5" stroke-linejoin="round"/><polygon points="963.3,234.5 980.8,231.2 982.3,232.6 982.7,235.5 981.1,249.0 963.5,251.8" fill="#101114" stroke="#2a2d34" stroke-width=".6" stroke-linejoin="round"/><polygon points="967.0,241.8 966.9,242.2 966.7,242.6 966.4,242.9 966.0,243.1 965.7,243.1 965.4,243.0 965.2,242.8 965.2,242.5 965.3,242.1 965.5,241.7 965.8,241.4 966.2,241.2 966.5,241.1 966.8,241.2 966.9,241.5" fill="#e6e6e6" /><polygon points="975.1,240.8 975.0,241.4 974.7,241.9 974.2,242.3 973.8,242.6 973.3,242.7 972.9,242.5 972.7,242.2 972.6,241.8 972.8,241.2 973.1,240.7 973.5,240.3 974.0,240.0 974.4,239.9 974.8,240.1 975.1,240.4" fill="#f3f3f3" /><polygon points="967.5,253.5 970.3,251.8 973.5,252.7 973.5,264.1 967.8,265.3" fill="#1d2026" stroke="#3b404a" stroke-width=".6" stroke-linejoin="round"/><polygon points="824.4,95.3 824.0,91.8 835.6,87.4 855.0,86.1 991.8,137.3 960.3,145.8 959.7,149.4" fill="url(#gTop)" stroke="#383e4a" stroke-width="1.3" stroke-linejoin="round"/><polygon points="855.7,86.4 991.8,137.3 985.7,139.0 853.6,89.0" fill="#1d2027" opacity=".75"/><polygon points="983.0,134.0 991.8,137.3 960.3,145.8 952.0,142.5" fill="#2a2f39" opacity=".7"/><polygon points="846.2,89.4 856.7,90.2 973.7,134.4 956.7,139.1 837.6,92.6" fill="url(#gPanel)" /><line x1="824.8" y1="91.5" x2="961.4" y2="145.5" stroke="#5a6272" stroke-width="0.9" opacity=".8" stroke-linecap="round"/><line x1="989.5" y1="137.1" x2="959.9" y2="145.0" stroke="#4a515e" stroke-width="1.6" opacity=".75" stroke-linecap="round"/><polygon points="841.1,90.8 844.8,92.2 843.0,92.9 839.3,91.4" fill="#eef1ff" opacity=".95"/><polygon points="846.3,90.8 850.6,92.5 849.6,92.8 845.2,91.1" fill="#9fb0f0" opacity=".55"/><polygon points="850.4,91.7 850.0,91.8 849.5,91.8 849.0,91.7 848.4,91.6 847.9,91.4 847.4,91.2 847.1,91.0 847.0,90.8 847.1,90.6 847.3,90.5 847.7,90.4 848.2,90.4 848.7,90.4 849.3,90.6 849.8,90.7 850.3,90.9 850.6,91.2 850.7,91.4 850.7,91.6" fill="#5468ff" /><polygon points="855.4,91.1 855.0,91.2 854.5,91.2 853.9,91.1 853.4,91.0 852.8,90.8 852.4,90.6 852.1,90.4 852.0,90.2 852.0,90.0 852.2,89.9 852.6,89.8 853.1,89.8 853.7,89.8 854.3,90.0 854.8,90.1 855.3,90.3 855.6,90.5 855.7,90.8 855.6,90.9" fill="#5468ff" /><polygon points="859.7,91.3 878.6,98.5 872.2,100.7 853.6,93.5" fill="#9aa0a2" /><polygon points="860.3,92.0 876.7,98.2 874.1,99.1 857.7,92.9" fill="#c3c9c8" /><polygon points="858.3,93.3 859.3,93.6 857.8,94.2 856.8,93.8" fill="#7c837f" opacity=".8"/><polygon points="860.3,94.0 861.2,94.4 859.7,94.9 858.8,94.5" fill="#7c837f" opacity=".8"/><polygon points="862.2,94.8 863.2,95.1 861.7,95.7 860.7,95.3" fill="#7c837f" opacity=".8"/><polygon points="864.2,95.5 865.2,95.9 863.7,96.4 862.7,96.0" fill="#7c837f" opacity=".8"/><polygon points="866.2,96.3 867.2,96.6 865.7,97.2 864.7,96.8" fill="#7c837f" opacity=".8"/><polygon points="868.2,97.0 869.2,97.4 867.7,97.9 866.7,97.6" fill="#7c837f" opacity=".8"/><polygon points="870.2,97.8 871.2,98.2 869.7,98.7 868.7,98.3" fill="#7c837f" opacity=".8"/><polygon points="872.2,98.6 873.2,99.0 871.7,99.5 870.7,99.1" fill="#7c837f" opacity=".8"/><polygon points="845.5,93.7 847.5,94.5 846.0,95.0 844.1,94.2" fill="#c3cbf6" opacity=".7"/><polygon points="848.9,95.0 850.9,95.8 849.5,96.3 847.5,95.5" fill="#c3cbf6" opacity=".7"/><polygon points="852.4,96.4 854.4,97.2 852.9,97.7 850.9,96.9" fill="#c3cbf6" opacity=".7"/><polygon points="855.9,97.7 857.9,98.5 856.4,99.0 854.4,98.3" fill="#c3cbf6" opacity=".7"/><polygon points="883.0,100.2 903.0,107.7 896.2,109.9 876.6,102.4" fill="#9aa0a2" /><polygon points="883.6,100.9 901.0,107.4 898.2,108.4 880.9,101.8" fill="#c3c9c8" /><polygon points="881.5,102.1 882.5,102.5 881.0,103.0 880.0,102.7" fill="#7c837f" opacity=".8"/><polygon points="883.6,102.9 884.6,103.3 883.1,103.8 882.0,103.4" fill="#7c837f" opacity=".8"/><polygon points="885.7,103.7 886.7,104.1 885.1,104.6 884.1,104.2" fill="#7c837f" opacity=".8"/><polygon points="887.8,104.5 888.8,104.9 887.2,105.4 886.2,105.0" fill="#7c837f" opacity=".8"/><polygon points="889.9,105.3 890.9,105.7 889.3,106.2 888.3,105.8" fill="#7c837f" opacity=".8"/><polygon points="892.0,106.1 893.0,106.5 891.4,107.0 890.4,106.6" fill="#7c837f" opacity=".8"/><polygon points="894.1,106.9 895.2,107.3 893.6,107.9 892.5,107.5" fill="#7c837f" opacity=".8"/><polygon points="896.3,107.7 897.3,108.2 895.7,108.7 894.7,108.3" fill="#7c837f" opacity=".8"/><polygon points="868.0,102.4 870.1,103.2 868.6,103.8 866.5,103.0" fill="#c3cbf6" opacity=".7"/><polygon points="871.6,103.8 873.7,104.7 872.2,105.2 870.1,104.4" fill="#c3cbf6" opacity=".7"/><polygon points="875.3,105.3 877.4,106.1 875.9,106.6 873.8,105.8" fill="#c3cbf6" opacity=".7"/><polygon points="879.0,106.7 881.2,107.5 879.6,108.1 877.5,107.2" fill="#c3cbf6" opacity=".7"/><polygon points="909.9,110.4 931.3,118.4 924.1,120.6 903.1,112.6" fill="#9aa0a2" /><polygon points="910.6,111.1 929.2,118.1 926.2,119.0 907.8,112.0" fill="#c3c9c8" /><polygon points="908.4,112.4 909.5,112.8 907.8,113.3 906.7,112.9" fill="#7c837f" opacity=".8"/><polygon points="910.6,113.2 911.7,113.6 910.0,114.2 908.9,113.7" fill="#7c837f" opacity=".8"/><polygon points="912.8,114.1 913.9,114.5 912.2,115.0 911.2,114.6" fill="#7c837f" opacity=".8"/><polygon points="915.1,114.9 916.2,115.3 914.5,115.9 913.4,115.4" fill="#7c837f" opacity=".8"/><polygon points="917.3,115.8 918.4,116.2 916.7,116.7 915.6,116.3" fill="#7c837f" opacity=".8"/><polygon points="919.6,116.6 920.7,117.1 919.0,117.6 917.9,117.2" fill="#7c837f" opacity=".8"/><polygon points="921.8,117.5 923.0,117.9 921.2,118.5 920.1,118.0" fill="#7c837f" opacity=".8"/><polygon points="924.1,118.4 925.2,118.8 923.5,119.3 922.4,118.9" fill="#7c837f" opacity=".8"/><polygon points="894.0,112.5 896.2,113.4 894.6,113.9 892.4,113.1" fill="#c3cbf6" opacity=".7"/><polygon points="897.9,114.0 900.1,114.9 898.5,115.4 896.3,114.6" fill="#c3cbf6" opacity=".7"/><polygon points="901.8,115.6 904.1,116.4 902.4,117.0 900.2,116.1" fill="#c3cbf6" opacity=".7"/><polygon points="905.7,117.1 908.0,118.0 906.4,118.5 904.1,117.6" fill="#c3cbf6" opacity=".7"/><polygon points="936.8,121.4 942.8,123.6 936.7,125.4 930.8,123.2" fill="#bfae7c" /><polygon points="937.1,121.2 942.3,123.2 939.5,124.0 934.3,122.0" fill="#f6f1e0" /><polygon points="934.7,122.9 937.8,124.1 935.8,124.7 932.7,123.5" fill="#3a3322" /><polygon points="944.9,124.4 951.0,126.7 944.8,128.5 938.8,126.2" fill="#bfae7c" /><polygon points="945.2,124.3 950.5,126.3 947.7,127.1 942.4,125.1" fill="#f6f1e0" /><polygon points="942.8,126.0 946.0,127.2 943.9,127.8 940.8,126.6" fill="#3a3322" /><polygon points="927.4,123.3 927.2,123.4 926.9,123.4 926.6,123.4 926.3,123.3 926.1,123.2 925.9,123.1 925.7,123.0 925.7,122.9 925.7,122.8 925.9,122.8 926.1,122.7 926.3,122.7 926.6,122.7 926.9,122.8 927.2,122.9 927.4,123.0 927.5,123.1 927.5,123.2 927.5,123.3" fill="#e8ecff" /><polygon points="933.0,127.0 938.4,129.1 935.8,129.8 930.5,127.8" fill="#f2f4ff" opacity=".8"/><polygon points="966.5,135.6 964.6,135.8 962.0,135.7 958.9,135.2 955.6,134.3 952.5,133.3 949.9,132.1 948.0,131.0 947.0,129.9 947.0,129.0 947.9,128.5 949.8,128.2 952.3,128.4 955.4,128.8 958.6,129.6 961.8,130.7 964.4,131.8 966.4,133.0 967.5,134.1 967.5,135.0" fill="#414a86" /><polygon points="965.1,135.1 963.6,135.2 961.3,135.1 958.7,134.7 956.0,134.0 953.3,133.1 951.1,132.1 949.4,131.1 948.5,130.2 948.5,129.5 949.3,129.0 950.8,128.8 953.0,128.9 955.6,129.3 958.3,130.0 961.0,130.9 963.3,131.9 965.0,132.9 965.9,133.8 965.9,134.6" fill="#0a0b0e" /><polygon points="961.5,133.0 960.7,133.1 959.7,133.0 958.4,132.8 957.0,132.4 955.7,132.0 954.5,131.5 953.7,131.0 953.1,130.5 953.1,130.2 953.4,130.0 954.1,129.9 955.1,130.0 956.4,130.2 957.8,130.5 959.1,131.0 960.3,131.5 961.2,132.0 961.7,132.5 961.8,132.8" fill="#1f2228" /><polygon points="827.5,96.7 956.8,148.0 947.2,264.7 831.7,185.7" fill="url(#gFront)" stroke="url(#gFront)" stroke-width="6.6" stroke-linejoin="round"/><line x1="824.5" y1="92.4" x2="957.4" y2="145.2" stroke="#596171" stroke-width="1.0" opacity=".75" stroke-linecap="round"/><line x1="824.4" y1="93.0" x2="828.7" y2="184.2" stroke="#4a515f" stroke-width="1.0" opacity=".6" stroke-linecap="round"/><polygon points="948.8,143.0 960.2,147.5 950.3,266.7 940.5,260.1" fill="#343a44" opacity=".35"/><polygon points="954.8,144.8 961.4,147.4 951.4,266.3 945.8,262.5" fill="#373d47" opacity=".4"/><polygon points="820.0,160.6 827.6,161.2 831.3,163.8 831.3,175.0 828.0,177.0 820.0,177.0" fill="#fff" /><polygon points="834.7,106.8 834.7,107.5 834.5,108.0 834.2,108.3 833.9,108.3 833.5,108.0 833.2,107.5 833.0,106.8 832.9,106.0 832.9,105.3 833.1,104.8 833.4,104.5 833.7,104.5 834.1,104.8 834.4,105.3 834.6,106.0" fill="#111318" /><polygon points="834.6,108.8 834.6,109.1 834.5,109.3 834.3,109.5 834.1,109.4 833.9,109.3 833.7,109.0 833.6,108.7 833.6,108.4 833.6,108.1 833.7,107.8 833.9,107.7 834.0,107.8 834.2,107.9 834.4,108.2 834.5,108.5" fill="#8c96a6" /><polygon points="941.1,151.9 940.9,152.7 940.5,153.4 940.0,153.7 939.3,153.6 938.8,153.2 938.3,152.4 938.0,151.5 937.9,150.5 938.1,149.7 938.5,149.0 939.0,148.7 939.7,148.8 940.2,149.2 940.7,150.0 941.0,150.9" fill="#111318" /><polygon points="940.6,154.4 940.5,154.8 940.3,155.0 940.0,155.1 939.6,155.1 939.3,154.8 939.0,154.5 938.9,154.1 938.8,153.6 938.9,153.3 939.1,153.0 939.4,152.9 939.7,152.9 940.1,153.2 940.3,153.5 940.5,154.0" fill="#8c96a6" /><polygon points="844.9,194.4 844.8,195.0 844.7,195.4 844.4,195.5 844.1,195.4 843.7,195.1 843.4,194.5 843.2,193.9 843.1,193.2 843.2,192.6 843.3,192.2 843.6,192.1 843.9,192.2 844.3,192.5 844.6,193.1 844.8,193.7" fill="#111318" /><polygon points="844.7,196.1 844.7,196.3 844.6,196.5 844.5,196.6 844.3,196.5 844.1,196.3 843.9,196.0 843.8,195.7 843.8,195.4 843.8,195.2 843.9,195.0 844.0,195.0 844.2,195.0 844.4,195.2 844.6,195.5 844.7,195.8" fill="#8c96a6" /><polygon points="924.3,248.4 924.2,249.1 923.9,249.5 923.4,249.6 922.9,249.4 922.4,248.9 922.0,248.2 921.7,247.4 921.7,246.6 921.8,245.9 922.1,245.5 922.6,245.4 923.1,245.6 923.6,246.1 924.0,246.8 924.3,247.6" fill="#111318" /><polygon points="923.9,250.3 923.9,250.6 923.7,250.8 923.4,250.8 923.1,250.7 922.9,250.4 922.6,250.1 922.5,249.7 922.4,249.3 922.5,249.0 922.7,248.9 922.9,248.8 923.2,249.0 923.5,249.2 923.7,249.6 923.9,250.0" fill="#8c96a6" /><polygon points="841.0,130.4 840.8,131.7 840.2,132.6 839.4,133.0 838.3,132.8 837.3,132.0 836.4,130.7 835.8,129.2 835.5,127.7 835.7,126.3 836.2,125.4 837.0,125.0 838.1,125.2 839.1,126.0 840.1,127.3 840.7,128.8" fill="#0e1014" /><polygon points="839.6,129.2 839.5,130.3 839.1,131.0 838.5,131.3 837.7,131.2 836.9,130.6 836.2,129.6 835.8,128.4 835.6,127.2 835.7,126.2 836.1,125.4 836.7,125.1 837.5,125.2 838.3,125.8 838.9,126.8 839.4,128.0" fill="#3a414b" /><polygon points="840.0,129.7 839.9,130.7 839.5,131.4 838.9,131.7 838.2,131.5 837.5,130.9 836.8,130.0 836.4,128.9 836.2,127.8 836.3,126.8 836.7,126.1 837.3,125.8 838.0,126.0 838.8,126.5 839.4,127.5 839.9,128.6" fill="#14171c" /><polygon points="934.8,176.7 934.3,178.3 933.3,179.4 931.8,179.6 930.1,179.1 928.4,177.9 927.0,176.2 926.2,174.3 925.9,172.4 926.3,170.8 927.4,169.8 928.8,169.4 930.6,169.9 932.2,171.1 933.6,172.8 934.5,174.8" fill="#0e1014" /><polygon points="932.6,175.0 932.3,176.3 931.5,177.1 930.4,177.4 929.2,177.0 927.9,176.1 926.9,174.8 926.3,173.3 926.1,171.8 926.4,170.6 927.2,169.8 928.3,169.5 929.6,169.8 930.8,170.7 931.8,172.0 932.5,173.5" fill="#3a414b" /><polygon points="933.3,175.7 933.0,176.9 932.2,177.7 931.2,177.9 930.0,177.6 928.8,176.7 927.8,175.5 927.2,174.1 927.1,172.7 927.4,171.5 928.1,170.8 929.1,170.5 930.3,170.8 931.5,171.7 932.5,172.9 933.1,174.3" fill="#14171c" /><polygon points="855.0,206.6 861.0,210.0 861.0,212.4 855.0,209.0" fill="#0d0e11" /><polygon points="847.6,184.8 911.6,216.8 912.3,234.6 910.6,237.4 906.0,240.4 848.2,203.4" fill="#14161a" stroke="#2a2e36" stroke-width=".8" stroke-linejoin="round"/><polygon points="850.2,188.2 903.8,216.2 902.8,234.4 851.0,200.6" fill="#f0c29e" /><polygon points="850.2,188.2 851.2,188.7 852.0,201.3 851.0,200.6" fill="#1a1b1f" /><polygon points="851.2,188.7 903.8,216.2 903.7,218.5 851.3,190.3" fill="#c89c78" opacity=".8"/><polygon points="854.7,194.4 854.7,194.8 854.5,195.1 854.3,195.2 854.0,195.1 853.7,194.9 853.4,194.5 853.2,194.0 853.1,193.5 853.2,193.1 853.3,192.8 853.6,192.7 853.9,192.8 854.2,193.0 854.5,193.4 854.6,193.9" fill="#9a8774" /><polygon points="855.7,199.8 855.7,200.2 855.5,200.4 855.3,200.5 855.0,200.4 854.7,200.1 854.4,199.7 854.2,199.3 854.1,198.8 854.2,198.4 854.3,198.1 854.6,198.0 854.9,198.1 855.2,198.4 855.5,198.8 855.7,199.3" fill="#9a8774" /><polygon points="859.3,197.0 859.2,197.4 859.1,197.7 858.8,197.8 858.5,197.7 858.1,197.4 857.8,197.0 857.6,196.5 857.5,196.0 857.6,195.6 857.7,195.3 858.0,195.2 858.3,195.2 858.7,195.5 859.0,196.0 859.2,196.5" fill="#9a8774" /><polygon points="860.3,202.6 860.3,203.0 860.1,203.3 859.8,203.3 859.5,203.2 859.2,202.9 858.9,202.5 858.7,202.0 858.6,201.5 858.6,201.1 858.8,200.8 859.0,200.7 859.4,200.8 859.7,201.1 860.0,201.6 860.2,202.1" fill="#9a8774" /><polygon points="864.3,199.8 864.2,200.2 864.0,200.5 863.7,200.6 863.4,200.5 863.0,200.2 862.7,199.7 862.5,199.2 862.4,198.7 862.4,198.3 862.6,198.0 862.9,197.9 863.3,198.0 863.6,198.3 864.0,198.7 864.2,199.2" fill="#9a8774" /><polygon points="865.4,205.6 865.3,206.1 865.1,206.4 864.8,206.4 864.4,206.3 864.1,206.0 863.7,205.5 863.5,205.0 863.4,204.5 863.5,204.0 863.7,203.8 864.0,203.7 864.3,203.8 864.7,204.1 865.0,204.6 865.3,205.1" fill="#9a8774" /><polygon points="869.8,202.9 869.7,203.3 869.5,203.6 869.2,203.7 868.8,203.6 868.4,203.3 868.0,202.8 867.8,202.2 867.7,201.7 867.8,201.2 868.0,200.9 868.3,200.8 868.7,201.0 869.1,201.3 869.5,201.8 869.7,202.3" fill="#9a8774" /><polygon points="870.9,209.0 870.9,209.5 870.6,209.8 870.3,209.8 869.9,209.7 869.5,209.3 869.1,208.8 868.9,208.3 868.8,207.7 868.8,207.3 869.1,207.0 869.4,206.9 869.8,207.1 870.2,207.4 870.6,207.9 870.8,208.5" fill="#9a8774" /><polygon points="876.0,206.3 875.9,206.8 875.6,207.1 875.2,207.2 874.8,207.0 874.3,206.7 873.9,206.2 873.7,205.6 873.6,205.0 873.7,204.5 873.9,204.2 874.3,204.1 874.7,204.3 875.2,204.6 875.6,205.2 875.9,205.8" fill="#9a8774" /><polygon points="877.1,212.8 877.0,213.3 876.8,213.6 876.4,213.6 875.9,213.4 875.5,213.1 875.1,212.5 874.8,211.9 874.7,211.4 874.8,210.9 875.1,210.6 875.4,210.6 875.9,210.7 876.3,211.1 876.7,211.6 877.0,212.2" fill="#9a8774" /><polygon points="882.8,210.2 882.7,210.7 882.4,211.0 882.0,211.1 881.5,210.9 881.0,210.5 880.5,209.9 880.3,209.3 880.2,208.7 880.3,208.2 880.5,207.9 881.0,207.8 881.5,208.0 882.0,208.4 882.4,208.9 882.7,209.6" fill="#9a8774" /><polygon points="884.0,217.0 883.9,217.5 883.6,217.8 883.2,217.9 882.6,217.6 882.1,217.2 881.7,216.7 881.4,216.0 881.3,215.4 881.4,214.9 881.7,214.7 882.1,214.6 882.7,214.8 883.2,215.2 883.6,215.8 883.9,216.4" fill="#9a8774" /><polygon points="890.5,214.5 890.4,215.1 890.1,215.4 889.6,215.4 889.0,215.2 888.4,214.8 887.9,214.2 887.6,213.5 887.5,212.9 887.7,212.3 888.0,212.0 888.5,212.0 889.0,212.2 889.6,212.6 890.1,213.2 890.4,213.9" fill="#9a8774" /><polygon points="891.7,221.8 891.6,222.3 891.3,222.6 890.8,222.6 890.2,222.4 889.6,221.9 889.2,221.3 888.8,220.6 888.7,220.0 888.9,219.5 889.2,219.2 889.7,219.1 890.3,219.4 890.8,219.8 891.3,220.5 891.6,221.1" fill="#9a8774" /><polygon points="899.3,219.4 899.1,220.0 898.7,220.3 898.1,220.3 897.5,220.1 896.8,219.6 896.3,218.9 896.0,218.2 895.9,217.5 896.0,217.0 896.4,216.7 897.0,216.6 897.6,216.9 898.3,217.3 898.8,218.0 899.2,218.7" fill="#9a8774" /><polygon points="900.5,227.2 900.4,227.7 900.0,228.0 899.4,228.0 898.7,227.7 898.1,227.2 897.6,226.5 897.2,225.8 897.1,225.1 897.3,224.6 897.7,224.3 898.2,224.3 898.9,224.5 899.5,225.0 900.1,225.7 900.4,226.5" fill="#9a8774" /></g>
<polyline points="287,43.5 343.2,43.5 343.2,171.8" fill="none" stroke="#262626" stroke-width="1.5" stroke-linejoin="miter"/>
<polyline points="287,68.0 336.9,68.0 336.9,170.2" fill="none" stroke="#262626" stroke-width="1.5" stroke-linejoin="miter"/>
<polyline points="287,92.3 330.7,92.3 330.7,168.3" fill="none" stroke="#262626" stroke-width="1.5" stroke-linejoin="miter"/>
<polyline points="287,116.6 324.0,116.6 324.0,166.4" fill="none" stroke="#262626" stroke-width="1.5" stroke-linejoin="miter"/>
<g><polyline points="416.9,203 416.9,175.6 455,175.6" fill="none" stroke="#262626" stroke-width="1.5"/><line x1="492.5" y1="182.9" x2="522.5" y2="182.9" stroke="#262626" stroke-width="1.5"/><polygon points="454.4,172.6 478.1,180.1 477.6,187.6 455.4,178.3" fill="#2a2c2e" stroke="#2a2c2e" stroke-width=".8" stroke-linejoin="round"/><line x1="455" y1="175.4" x2="477.8" y2="183.8" stroke="#45484b" stroke-width=".6"/><polygon points="478.1,180.1 493.1,176.9 493.1,183.2 477.6,187.6" fill="#3b3d40" stroke="#3b3d40" stroke-width=".8" stroke-linejoin="round"/><polygon points="482,181 491.4,179 491.4,183.2 482,185.6" fill="#15161a"/><polygon points="484.5,182.4 489.5,181.3 489.5,182.8 484.5,184" fill="#5a5d62"/><polygon points="454.4,172.6 467.5,170.5 493.1,176.9 478.1,180.1" fill="#53565a" stroke="#53565a" stroke-width=".8" stroke-linejoin="round"/><polygon points="458,172.8 467.3,171.3 489.6,176.9 479,179.2" fill="#606368" opacity=".7"/></g>
<text x="366.6" y="63.0" font-size="14.3" fill="#2f2f2f" text-anchor="start">标准连接线</text>
<text x="70.0" y="161.5" font-size="14.2" fill="#2f2f2f" text-anchor="start">探头</text>
<text x="467.9" y="137.3" font-size="14.2" fill="#2f2f2f" text-anchor="start">电源适配器</text>
<text x="467.9" y="157.9" font-size="14.2" fill="#2f2f2f" text-anchor="start">或</text>
<text x="485.6" y="157.9" font-size="14.2" fill="#2f2f2f" text-anchor="start">电源连接线</text>
<text x="605.8" y="195.8" font-size="14" fill="#2f2f2f" text-anchor="start">本体</text>
<text x="645.2" y="196.0" font-size="15.4" fill="#454545" text-anchor="start" textLength="103.8" lengthAdjust="spacingAndGlyphs">Model 1590-0C</text>
<text x="605.6" y="405.4" font-size="13.9" fill="#2f2f2f" text-anchor="start">测试模块</text>
<text x="673.4" y="405.6" font-size="15.4" fill="#454545" text-anchor="start" textLength="104.6" lengthAdjust="spacingAndGlyphs">Model 1591-0C</text>
<text x="864.2" y="305.0" font-size="13.9" fill="#2f2f2f" text-anchor="start">模拟输出模块</text>
<text x="855.4" y="322.5" font-size="15.4" fill="#454545" text-anchor="start" textLength="103.6" lengthAdjust="spacingAndGlyphs">Model 1592-0C</text>
<text x="457.0" y="322.0" font-size="15.4" fill="#454545" text-anchor="start" textLength="105.0" lengthAdjust="spacingAndGlyphs">Model 1590-0C</text>
<text x="508.4" y="337.2" font-size="12.5" fill="#454545" text-anchor="middle">+</text>
<text x="457.0" y="357.0" font-size="15.4" fill="#454545" text-anchor="start" textLength="105.0" lengthAdjust="spacingAndGlyphs">Model 1591-0C</text>
<text x="74.3" y="347.8" font-size="15.6" fill="#454545" text-anchor="start" textLength="21.0" lengthAdjust="spacingAndGlyphs">PC</text>
<text x="179.3" y="319.6" font-size="15.6" fill="#454545" text-anchor="start" textLength="31.0" lengthAdjust="spacingAndGlyphs">USB</text>
<text x="210.5" y="319.4" font-size="14.2" fill="#2f2f2f" text-anchor="start">或</text>
<text x="225.4" y="319.6" font-size="15.6" fill="#454545" text-anchor="start" textLength="29.3" lengthAdjust="spacingAndGlyphs">LAN</text>
</svg>
</body></html>
